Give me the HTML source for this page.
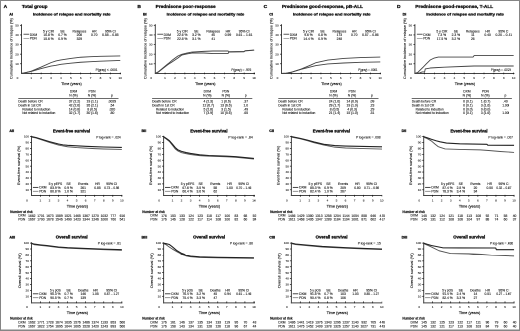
<!DOCTYPE html>
<html><head><meta charset="utf-8"><title>Figure</title>
<style>html,body{margin:0;padding:0;background:#fff;width:520px;height:331px;overflow:hidden}svg{display:block}.wrap{position:absolute;left:0;top:0;width:1040px;height:662px;transform:scale(0.5);transform-origin:0 0;will-change:transform}</style></head><body>
<div class="wrap"><svg width="1040" height="662" viewBox="0 0 520 331" font-family="Liberation Sans, Arial, sans-serif" fill="#111">
<rect x="0" y="0" width="520" height="331" fill="#fff"/>
<text x="3.6" y="7.8" font-size="4.9" font-weight="bold" stroke="#111" stroke-width="0.3">A</text>
<text x="21.9" y="8" font-size="4.7" font-weight="bold" textLength="25.6" lengthAdjust="spacingAndGlyphs" stroke="#111" stroke-width="0.3">Total group</text>
<text x="9.2" y="15.33" font-size="3.7" font-weight="bold" stroke="#111" stroke-width="0.3">Ai</text>
<text x="32.9" y="15.74" font-size="4" font-weight="bold" textLength="77.6" lengthAdjust="spacingAndGlyphs" stroke="#111" stroke-width="0.3">Incidence of relapse and mortality rate</text>
<line x1="21.5" y1="24.2" x2="21.5" y2="73.5" stroke="#444" stroke-width="1"/>
<line x1="21" y1="73.5" x2="121" y2="73.5" stroke="#444" stroke-width="1"/>
<line x1="20" y1="63.78" x2="21.5" y2="63.78" stroke="#111" stroke-width="0.7"/>
<text x="18.7" y="64.9" font-size="3.1" text-anchor="end" stroke="#111" stroke-width="0.06">10</text>
<line x1="20" y1="54.16" x2="21.5" y2="54.16" stroke="#111" stroke-width="0.7"/>
<text x="18.7" y="55.28" font-size="3.1" text-anchor="end" stroke="#111" stroke-width="0.06">20</text>
<line x1="20" y1="44.54" x2="21.5" y2="44.54" stroke="#111" stroke-width="0.7"/>
<text x="18.7" y="45.66" font-size="3.1" text-anchor="end" stroke="#111" stroke-width="0.06">30</text>
<line x1="20" y1="34.92" x2="21.5" y2="34.92" stroke="#111" stroke-width="0.7"/>
<text x="18.7" y="36.04" font-size="3.1" text-anchor="end" stroke="#111" stroke-width="0.06">40</text>
<line x1="20" y1="25.3" x2="21.5" y2="25.3" stroke="#111" stroke-width="0.7"/>
<text x="18.7" y="26.42" font-size="3.1" text-anchor="end" stroke="#111" stroke-width="0.06">50</text>
<line x1="31.25" y1="72.6" x2="31.25" y2="74.3" stroke="#111" stroke-width="0.7"/>
<text x="31.25" y="79.02" font-size="3.1" text-anchor="middle" stroke="#111" stroke-width="0.06">1</text>
<line x1="41.14" y1="72.6" x2="41.14" y2="74.3" stroke="#111" stroke-width="0.7"/>
<text x="41.14" y="79.02" font-size="3.1" text-anchor="middle" stroke="#111" stroke-width="0.06">2</text>
<line x1="51.03" y1="72.6" x2="51.03" y2="74.3" stroke="#111" stroke-width="0.7"/>
<text x="51.03" y="79.02" font-size="3.1" text-anchor="middle" stroke="#111" stroke-width="0.06">3</text>
<line x1="60.92" y1="72.6" x2="60.92" y2="74.3" stroke="#111" stroke-width="0.7"/>
<text x="60.92" y="79.02" font-size="3.1" text-anchor="middle" stroke="#111" stroke-width="0.06">4</text>
<line x1="70.81" y1="72.6" x2="70.81" y2="74.3" stroke="#111" stroke-width="0.7"/>
<text x="70.81" y="79.02" font-size="3.1" text-anchor="middle" stroke="#111" stroke-width="0.06">5</text>
<line x1="80.7" y1="72.6" x2="80.7" y2="74.3" stroke="#111" stroke-width="0.7"/>
<text x="80.7" y="79.02" font-size="3.1" text-anchor="middle" stroke="#111" stroke-width="0.06">6</text>
<line x1="90.59" y1="72.6" x2="90.59" y2="74.3" stroke="#111" stroke-width="0.7"/>
<text x="90.59" y="79.02" font-size="3.1" text-anchor="middle" stroke="#111" stroke-width="0.06">7</text>
<line x1="100.48" y1="72.6" x2="100.48" y2="74.3" stroke="#111" stroke-width="0.7"/>
<text x="100.48" y="79.02" font-size="3.1" text-anchor="middle" stroke="#111" stroke-width="0.06">8</text>
<line x1="110.37" y1="72.6" x2="110.37" y2="74.3" stroke="#111" stroke-width="0.7"/>
<text x="110.37" y="79.02" font-size="3.1" text-anchor="middle" stroke="#111" stroke-width="0.06">9</text>
<line x1="120.26" y1="72.6" x2="120.26" y2="74.3" stroke="#111" stroke-width="0.7"/>
<text x="120.26" y="79.02" font-size="3.1" text-anchor="middle" stroke="#111" stroke-width="0.06">10</text>
<text x="17.5" y="79.02" font-size="3.1" text-anchor="middle" stroke="#111" stroke-width="0.06">0</text>
<text x="61.3" y="85.17" font-size="3.8" textLength="20.4" lengthAdjust="spacingAndGlyphs" stroke="#111" stroke-width="0.14">Time (years)</text>
<line x1="23.5" y1="34.2" x2="29.2" y2="34.2" stroke="#333" stroke-width="0.8"/>
<line x1="23.5" y1="38.3" x2="29.2" y2="38.3" stroke="#777" stroke-width="0.6"/>
<text x="29.8" y="35.79" font-size="3.3" stroke="#111" stroke-width="0.1">DXM</text>
<text x="29.8" y="39.59" font-size="3.3" stroke="#111" stroke-width="0.1">PDN</text>
<text x="48.5" y="32.49" font-size="3.3" text-anchor="middle" stroke="#111" stroke-width="0.1">5 y CIR</text>
<text x="62.5" y="32.49" font-size="3.3" text-anchor="middle" stroke="#111" stroke-width="0.1">SE</text>
<text x="79.4" y="32.49" font-size="3.3" text-anchor="middle" stroke="#111" stroke-width="0.1">Relapses</text>
<text x="94.2" y="32.49" font-size="3.3" text-anchor="middle" stroke="#111" stroke-width="0.1">HR</text>
<text x="110.4" y="32.49" font-size="3.3" text-anchor="middle" stroke="#111" stroke-width="0.1">95% CI</text>
<text x="48.5" y="35.99" font-size="3.3" text-anchor="middle" stroke="#111" stroke-width="0.1">10.8 %</text>
<text x="62.5" y="35.99" font-size="3.3" text-anchor="middle" stroke="#111" stroke-width="0.1">0.7 %</text>
<text x="79.4" y="35.99" font-size="3.3" text-anchor="middle" stroke="#111" stroke-width="0.1">208</text>
<text x="94.2" y="35.99" font-size="3.3" text-anchor="middle" stroke="#111" stroke-width="0.1">0.70</text>
<text x="110.4" y="35.99" font-size="3.3" text-anchor="middle" stroke="#111" stroke-width="0.1">0.58 – 0.85</text>
<text x="48.5" y="39.79" font-size="3.3" text-anchor="middle" stroke="#111" stroke-width="0.1">15.6 %</text>
<text x="62.5" y="39.79" font-size="3.3" text-anchor="middle" stroke="#111" stroke-width="0.1">0.9 %</text>
<text x="79.4" y="39.79" font-size="3.3" text-anchor="middle" stroke="#111" stroke-width="0.1">329</text>
<text x="95.6" y="71.19" font-size="3.3" textLength="21.9" lengthAdjust="spacingAndGlyphs" stroke="#111" stroke-width="0.1">P(gray) &lt; .0001</text>
<polyline points="21.36,73.4 23.34,73.11 26.3,72.44 31.25,71.19 41.14,67.05 51.03,62.63 55.98,60.89 60.92,59.93 70.81,58.39 80.7,57.24 90.59,56.66 100.48,56.28 120.26,55.89" fill="none" stroke="#444" stroke-width="0.9" stroke-linejoin="round"/>
<polyline points="21.36,73.4 23.34,73.11 26.3,72.53 31.25,71.48 41.14,68.59 51.03,66.09 55.98,65.32 60.92,64.36 70.81,63.2 80.7,62.24 90.59,61.66 100.48,61.18 120.26,60.41" fill="none" stroke="#444" stroke-width="0.9" stroke-linejoin="round"/>
<text x="73.5" y="92.39" font-size="3.3" text-anchor="middle" stroke="#111" stroke-width="0.1">DXM</text>
<text x="92" y="92.39" font-size="3.3" text-anchor="middle" stroke="#111" stroke-width="0.1">PDN</text>
<text x="73.5" y="96.29" font-size="3.3" text-anchor="middle" stroke="#111" stroke-width="0.1">N (%)</text>
<text x="92" y="96.29" font-size="3.3" text-anchor="middle" stroke="#111" stroke-width="0.1">N (%)</text>
<text x="112" y="96.49" font-size="3.3" text-anchor="middle" stroke="#111" stroke-width="0.1">p</text>
<line x1="18.3" y1="98.3" x2="118.5" y2="98.3" stroke="#111" stroke-width="0.6"/>
<text x="18.3" y="102.59" font-size="3.3" textLength="24.5" lengthAdjust="spacingAndGlyphs" stroke="#111" stroke-width="0.1">Death before CR</text>
<text x="74.5" y="102.59" font-size="3.3" text-anchor="middle" stroke="#111" stroke-width="0.1">37 (2.2)</text>
<text x="92.2" y="102.59" font-size="3.3" text-anchor="middle" stroke="#111" stroke-width="0.1">19 (1.1)</text>
<text x="112" y="102.59" font-size="3.3" text-anchor="middle" stroke="#111" stroke-width="0.1">.0029</text>
<text x="18.3" y="106.69" font-size="3.3" textLength="22.6" lengthAdjust="spacingAndGlyphs" stroke="#111" stroke-width="0.1">Death in 1st CR</text>
<text x="74.5" y="106.69" font-size="3.3" text-anchor="middle" stroke="#111" stroke-width="0.1">42 (2.6)</text>
<text x="92.2" y="106.69" font-size="3.3" text-anchor="middle" stroke="#111" stroke-width="0.1">35 (2.1)</text>
<text x="112" y="106.69" font-size="3.3" text-anchor="middle" stroke="#111" stroke-width="0.1">.54</text>
<text x="22.2" y="110.39" font-size="3.3" textLength="28.1" lengthAdjust="spacingAndGlyphs" stroke="#111" stroke-width="0.1">Related to induction</text>
<text x="74.5" y="110.39" font-size="3.3" text-anchor="middle" stroke="#111" stroke-width="0.1">14 (0.8)</text>
<text x="92.2" y="110.39" font-size="3.3" text-anchor="middle" stroke="#111" stroke-width="0.1">8 (0.5)</text>
<text x="112" y="110.39" font-size="3.3" text-anchor="middle" stroke="#111" stroke-width="0.1">.020</text>
<text x="22.2" y="113.79" font-size="3.3" textLength="33.1" lengthAdjust="spacingAndGlyphs" stroke="#111" stroke-width="0.1">Not related to induction</text>
<text x="74.5" y="113.79" font-size="3.3" text-anchor="middle" stroke="#111" stroke-width="0.1">32 (1.7)</text>
<text x="92.2" y="113.79" font-size="3.3" text-anchor="middle" stroke="#111" stroke-width="0.1">30 (1.6)</text>
<text x="112" y="113.79" font-size="3.3" text-anchor="middle" stroke="#111" stroke-width="0.1">.80</text>
<text x="9.4" y="132.13" font-size="3.7" font-weight="bold" stroke="#111" stroke-width="0.3">Aii</text>
<text x="52.9" y="132.28" font-size="4.1" font-weight="bold" textLength="37.2" lengthAdjust="spacingAndGlyphs" stroke="#111" stroke-width="0.3">Event-free survival</text>
<text x="96.2" y="138.39" font-size="3.3" textLength="24.5" lengthAdjust="spacingAndGlyphs" stroke="#111" stroke-width="0.1">P log-rank = .024</text>
<line x1="31.5" y1="135.8" x2="31.5" y2="196" stroke="#444" stroke-width="1"/>
<line x1="31" y1="195.5" x2="122.3" y2="195.5" stroke="#444" stroke-width="1"/>
<line x1="30" y1="189.79" x2="31.5" y2="189.79" stroke="#111" stroke-width="0.7"/>
<text x="29" y="190.91" font-size="3.1" text-anchor="end" stroke="#111" stroke-width="0.06">10</text>
<line x1="30" y1="183.88" x2="31.5" y2="183.88" stroke="#111" stroke-width="0.7"/>
<text x="29" y="185" font-size="3.1" text-anchor="end" stroke="#111" stroke-width="0.06">20</text>
<line x1="30" y1="177.97" x2="31.5" y2="177.97" stroke="#111" stroke-width="0.7"/>
<text x="29" y="179.09" font-size="3.1" text-anchor="end" stroke="#111" stroke-width="0.06">30</text>
<line x1="30" y1="172.06" x2="31.5" y2="172.06" stroke="#111" stroke-width="0.7"/>
<text x="29" y="173.18" font-size="3.1" text-anchor="end" stroke="#111" stroke-width="0.06">40</text>
<line x1="30" y1="166.15" x2="31.5" y2="166.15" stroke="#111" stroke-width="0.7"/>
<text x="29" y="167.27" font-size="3.1" text-anchor="end" stroke="#111" stroke-width="0.06">50</text>
<line x1="30" y1="160.24" x2="31.5" y2="160.24" stroke="#111" stroke-width="0.7"/>
<text x="29" y="161.36" font-size="3.1" text-anchor="end" stroke="#111" stroke-width="0.06">60</text>
<line x1="30" y1="154.33" x2="31.5" y2="154.33" stroke="#111" stroke-width="0.7"/>
<text x="29" y="155.45" font-size="3.1" text-anchor="end" stroke="#111" stroke-width="0.06">70</text>
<line x1="30" y1="148.42" x2="31.5" y2="148.42" stroke="#111" stroke-width="0.7"/>
<text x="29" y="149.54" font-size="3.1" text-anchor="end" stroke="#111" stroke-width="0.06">80</text>
<line x1="30" y1="142.51" x2="31.5" y2="142.51" stroke="#111" stroke-width="0.7"/>
<text x="29" y="143.63" font-size="3.1" text-anchor="end" stroke="#111" stroke-width="0.06">90</text>
<line x1="30" y1="136.6" x2="31.5" y2="136.6" stroke="#111" stroke-width="0.7"/>
<text x="29" y="137.72" font-size="3.1" text-anchor="end" stroke="#111" stroke-width="0.06">100</text>
<line x1="40.4" y1="194.9" x2="40.4" y2="196.8" stroke="#111" stroke-width="0.7"/>
<text x="40.4" y="201.72" font-size="3.1" text-anchor="middle" stroke="#111" stroke-width="0.06">1</text>
<line x1="49.45" y1="194.9" x2="49.45" y2="196.8" stroke="#111" stroke-width="0.7"/>
<text x="49.45" y="201.72" font-size="3.1" text-anchor="middle" stroke="#111" stroke-width="0.06">2</text>
<line x1="58.5" y1="194.9" x2="58.5" y2="196.8" stroke="#111" stroke-width="0.7"/>
<text x="58.5" y="201.72" font-size="3.1" text-anchor="middle" stroke="#111" stroke-width="0.06">3</text>
<line x1="67.55" y1="194.9" x2="67.55" y2="196.8" stroke="#111" stroke-width="0.7"/>
<text x="67.55" y="201.72" font-size="3.1" text-anchor="middle" stroke="#111" stroke-width="0.06">4</text>
<line x1="76.6" y1="194.9" x2="76.6" y2="196.8" stroke="#111" stroke-width="0.7"/>
<text x="76.6" y="201.72" font-size="3.1" text-anchor="middle" stroke="#111" stroke-width="0.06">5</text>
<line x1="85.65" y1="194.9" x2="85.65" y2="196.8" stroke="#111" stroke-width="0.7"/>
<text x="85.65" y="201.72" font-size="3.1" text-anchor="middle" stroke="#111" stroke-width="0.06">6</text>
<line x1="94.7" y1="194.9" x2="94.7" y2="196.8" stroke="#111" stroke-width="0.7"/>
<text x="94.7" y="201.72" font-size="3.1" text-anchor="middle" stroke="#111" stroke-width="0.06">7</text>
<line x1="103.75" y1="194.9" x2="103.75" y2="196.8" stroke="#111" stroke-width="0.7"/>
<text x="103.75" y="201.72" font-size="3.1" text-anchor="middle" stroke="#111" stroke-width="0.06">8</text>
<line x1="112.8" y1="194.9" x2="112.8" y2="196.8" stroke="#111" stroke-width="0.7"/>
<text x="112.8" y="201.72" font-size="3.1" text-anchor="middle" stroke="#111" stroke-width="0.06">9</text>
<line x1="121.85" y1="194.9" x2="121.85" y2="196.8" stroke="#111" stroke-width="0.7"/>
<text x="121.85" y="201.72" font-size="3.1" text-anchor="middle" stroke="#111" stroke-width="0.06">10</text>
<text x="27" y="201.72" font-size="3.1" text-anchor="middle" stroke="#111" stroke-width="0.06">0</text>
<text x="66.7" y="207.7" font-size="3.9" textLength="21.4" lengthAdjust="spacingAndGlyphs" stroke="#111" stroke-width="0.14">Time (years)</text>
<line x1="32.9" y1="187.4" x2="38.4" y2="187.4" stroke="#333" stroke-width="0.9"/>
<line x1="32.9" y1="191.3" x2="38.4" y2="191.3" stroke="#777" stroke-width="0.8"/>
<text x="39.2" y="188.59" font-size="3.3" stroke="#111" stroke-width="0.1">DXM</text>
<text x="39.2" y="192.49" font-size="3.3" stroke="#111" stroke-width="0.1">PDN</text>
<text x="55.4" y="185.19" font-size="3.3" text-anchor="middle" stroke="#111" stroke-width="0.1">5 y pEFS</text>
<text x="68.6" y="185.19" font-size="3.3" text-anchor="middle" stroke="#111" stroke-width="0.1">SE</text>
<text x="83.2" y="185.19" font-size="3.3" text-anchor="middle" stroke="#111" stroke-width="0.1">Events</text>
<text x="97.5" y="185.19" font-size="3.3" text-anchor="middle" stroke="#111" stroke-width="0.1">HR</text>
<text x="111.7" y="185.19" font-size="3.3" text-anchor="middle" stroke="#111" stroke-width="0.1">95% CI</text>
<text x="55.4" y="188.79" font-size="3.3" text-anchor="middle" stroke="#111" stroke-width="0.1">83.9 %</text>
<text x="68.6" y="188.79" font-size="3.3" text-anchor="middle" stroke="#111" stroke-width="0.1">0.9 %</text>
<text x="83.2" y="188.79" font-size="3.3" text-anchor="middle" stroke="#111" stroke-width="0.1">261</text>
<text x="97.5" y="188.79" font-size="3.3" text-anchor="middle" stroke="#111" stroke-width="0.1">0.85</text>
<text x="111.7" y="188.79" font-size="3.3" text-anchor="middle" textLength="15" lengthAdjust="spacingAndGlyphs" stroke="#111" stroke-width="0.1">0.73 – 0.98</text>
<text x="55.4" y="192.59" font-size="3.3" text-anchor="middle" stroke="#111" stroke-width="0.1">80.8 %</text>
<text x="68.6" y="192.59" font-size="3.3" text-anchor="middle" stroke="#111" stroke-width="0.1">1.0 %</text>
<text x="83.2" y="192.59" font-size="3.3" text-anchor="middle" stroke="#111" stroke-width="0.1">321</text>
<polyline points="31.35,137.05 35.88,137.94 40.4,139.41 49.45,142.37 58.5,145.03 63.03,145.91 67.55,146.74 76.6,147.57 85.65,148.16 94.7,148.63 103.75,148.99 121.85,149.46" fill="none" stroke="#555" stroke-width="0.95" stroke-linejoin="round"/>
<polyline points="31.35,136.6 35.88,137.49 40.4,138.85 49.45,141.62 58.5,143.99 63.03,144.87 67.55,145.35 76.6,145.82 85.65,146.29 94.7,146.65 103.75,147 121.85,147.47" fill="none" stroke="#222" stroke-width="1.1" stroke-linejoin="round"/>
<text x="10.2" y="212.75" font-size="3.2" font-weight="bold" textLength="22.5" lengthAdjust="spacingAndGlyphs" stroke="#111" stroke-width="0.14">Number at risk</text>
<text x="18.3" y="216.69" font-size="3.3" stroke="#111" stroke-width="0.1">DXM</text>
<text x="18.3" y="220.59" font-size="3.3" stroke="#111" stroke-width="0.1">PDN</text>
<text x="31.85" y="216.79" font-size="3.3" text-anchor="middle" stroke="#111" stroke-width="0.1">1662</text>
<text x="40.9" y="216.79" font-size="3.3" text-anchor="middle" stroke="#111" stroke-width="0.1">1701</text>
<text x="49.95" y="216.79" font-size="3.3" text-anchor="middle" stroke="#111" stroke-width="0.1">1673</text>
<text x="59" y="216.79" font-size="3.3" text-anchor="middle" stroke="#111" stroke-width="0.1">1589</text>
<text x="68.05" y="216.79" font-size="3.3" text-anchor="middle" stroke="#111" stroke-width="0.1">1521</text>
<text x="77.1" y="216.79" font-size="3.3" text-anchor="middle" stroke="#111" stroke-width="0.1">1465</text>
<text x="86.15" y="216.79" font-size="3.3" text-anchor="middle" stroke="#111" stroke-width="0.1">1367</text>
<text x="95.2" y="216.79" font-size="3.3" text-anchor="middle" stroke="#111" stroke-width="0.1">1270</text>
<text x="104.25" y="216.79" font-size="3.3" text-anchor="middle" stroke="#111" stroke-width="0.1">1032</text>
<text x="113.3" y="216.79" font-size="3.3" text-anchor="middle" stroke="#111" stroke-width="0.1">777</text>
<text x="122.35" y="216.79" font-size="3.3" text-anchor="middle" stroke="#111" stroke-width="0.1">616</text>
<text x="31.85" y="220.59" font-size="3.3" text-anchor="middle" stroke="#111" stroke-width="0.1">1667</text>
<text x="40.9" y="220.59" font-size="3.3" text-anchor="middle" stroke="#111" stroke-width="0.1">1700</text>
<text x="49.95" y="220.59" font-size="3.3" text-anchor="middle" stroke="#111" stroke-width="0.1">1678</text>
<text x="59" y="220.59" font-size="3.3" text-anchor="middle" stroke="#111" stroke-width="0.1">1546</text>
<text x="68.05" y="220.59" font-size="3.3" text-anchor="middle" stroke="#111" stroke-width="0.1">1490</text>
<text x="77.1" y="220.59" font-size="3.3" text-anchor="middle" stroke="#111" stroke-width="0.1">1423</text>
<text x="86.15" y="220.59" font-size="3.3" text-anchor="middle" stroke="#111" stroke-width="0.1">1344</text>
<text x="95.2" y="220.59" font-size="3.3" text-anchor="middle" stroke="#111" stroke-width="0.1">1246</text>
<text x="104.25" y="220.59" font-size="3.3" text-anchor="middle" stroke="#111" stroke-width="0.1">1000</text>
<text x="113.3" y="220.59" font-size="3.3" text-anchor="middle" stroke="#111" stroke-width="0.1">760</text>
<text x="122.35" y="220.59" font-size="3.3" text-anchor="middle" stroke="#111" stroke-width="0.1">541</text>
<text x="9.4" y="238.53" font-size="3.7" font-weight="bold" stroke="#111" stroke-width="0.3">Aiii</text>
<text x="55.8" y="238.68" font-size="4.1" font-weight="bold" textLength="31.9" lengthAdjust="spacingAndGlyphs" stroke="#111" stroke-width="0.3">Overall survival</text>
<text x="97.8" y="244.69" font-size="3.3" textLength="23.1" lengthAdjust="spacingAndGlyphs" stroke="#111" stroke-width="0.1">P log-rank = .81</text>
<line x1="31.5" y1="242.3" x2="31.5" y2="303.4" stroke="#444" stroke-width="1"/>
<line x1="31" y1="302.9" x2="122.3" y2="302.9" stroke="#444" stroke-width="1"/>
<line x1="30" y1="296.29" x2="31.5" y2="296.29" stroke="#111" stroke-width="0.7"/>
<text x="29" y="297.41" font-size="3.1" text-anchor="end" stroke="#111" stroke-width="0.06">10</text>
<line x1="30" y1="290.38" x2="31.5" y2="290.38" stroke="#111" stroke-width="0.7"/>
<text x="29" y="291.5" font-size="3.1" text-anchor="end" stroke="#111" stroke-width="0.06">20</text>
<line x1="30" y1="284.47" x2="31.5" y2="284.47" stroke="#111" stroke-width="0.7"/>
<text x="29" y="285.59" font-size="3.1" text-anchor="end" stroke="#111" stroke-width="0.06">30</text>
<line x1="30" y1="278.56" x2="31.5" y2="278.56" stroke="#111" stroke-width="0.7"/>
<text x="29" y="279.68" font-size="3.1" text-anchor="end" stroke="#111" stroke-width="0.06">40</text>
<line x1="30" y1="272.65" x2="31.5" y2="272.65" stroke="#111" stroke-width="0.7"/>
<text x="29" y="273.77" font-size="3.1" text-anchor="end" stroke="#111" stroke-width="0.06">50</text>
<line x1="30" y1="266.74" x2="31.5" y2="266.74" stroke="#111" stroke-width="0.7"/>
<text x="29" y="267.86" font-size="3.1" text-anchor="end" stroke="#111" stroke-width="0.06">60</text>
<line x1="30" y1="260.83" x2="31.5" y2="260.83" stroke="#111" stroke-width="0.7"/>
<text x="29" y="261.95" font-size="3.1" text-anchor="end" stroke="#111" stroke-width="0.06">70</text>
<line x1="30" y1="254.92" x2="31.5" y2="254.92" stroke="#111" stroke-width="0.7"/>
<text x="29" y="256.04" font-size="3.1" text-anchor="end" stroke="#111" stroke-width="0.06">80</text>
<line x1="30" y1="249.01" x2="31.5" y2="249.01" stroke="#111" stroke-width="0.7"/>
<text x="29" y="250.13" font-size="3.1" text-anchor="end" stroke="#111" stroke-width="0.06">90</text>
<line x1="30" y1="243.1" x2="31.5" y2="243.1" stroke="#111" stroke-width="0.7"/>
<text x="29" y="244.22" font-size="3.1" text-anchor="end" stroke="#111" stroke-width="0.06">100</text>
<line x1="40.4" y1="301.4" x2="40.4" y2="303.3" stroke="#111" stroke-width="0.7"/>
<text x="40.4" y="308.12" font-size="3.1" text-anchor="middle" stroke="#111" stroke-width="0.06">1</text>
<line x1="49.45" y1="301.4" x2="49.45" y2="303.3" stroke="#111" stroke-width="0.7"/>
<text x="49.45" y="308.12" font-size="3.1" text-anchor="middle" stroke="#111" stroke-width="0.06">2</text>
<line x1="58.5" y1="301.4" x2="58.5" y2="303.3" stroke="#111" stroke-width="0.7"/>
<text x="58.5" y="308.12" font-size="3.1" text-anchor="middle" stroke="#111" stroke-width="0.06">3</text>
<line x1="67.55" y1="301.4" x2="67.55" y2="303.3" stroke="#111" stroke-width="0.7"/>
<text x="67.55" y="308.12" font-size="3.1" text-anchor="middle" stroke="#111" stroke-width="0.06">4</text>
<line x1="76.6" y1="301.4" x2="76.6" y2="303.3" stroke="#111" stroke-width="0.7"/>
<text x="76.6" y="308.12" font-size="3.1" text-anchor="middle" stroke="#111" stroke-width="0.06">5</text>
<line x1="85.65" y1="301.4" x2="85.65" y2="303.3" stroke="#111" stroke-width="0.7"/>
<text x="85.65" y="308.12" font-size="3.1" text-anchor="middle" stroke="#111" stroke-width="0.06">6</text>
<line x1="94.7" y1="301.4" x2="94.7" y2="303.3" stroke="#111" stroke-width="0.7"/>
<text x="94.7" y="308.12" font-size="3.1" text-anchor="middle" stroke="#111" stroke-width="0.06">7</text>
<line x1="103.75" y1="301.4" x2="103.75" y2="303.3" stroke="#111" stroke-width="0.7"/>
<text x="103.75" y="308.12" font-size="3.1" text-anchor="middle" stroke="#111" stroke-width="0.06">8</text>
<line x1="112.8" y1="301.4" x2="112.8" y2="303.3" stroke="#111" stroke-width="0.7"/>
<text x="112.8" y="308.12" font-size="3.1" text-anchor="middle" stroke="#111" stroke-width="0.06">9</text>
<line x1="121.85" y1="301.4" x2="121.85" y2="303.3" stroke="#111" stroke-width="0.7"/>
<text x="121.85" y="308.12" font-size="3.1" text-anchor="middle" stroke="#111" stroke-width="0.06">10</text>
<text x="27" y="308.12" font-size="3.1" text-anchor="middle" stroke="#111" stroke-width="0.06">0</text>
<text x="66.7" y="314.1" font-size="3.9" textLength="21.4" lengthAdjust="spacingAndGlyphs" stroke="#111" stroke-width="0.14">Time (years)</text>
<line x1="32.9" y1="293.8" x2="38.4" y2="293.8" stroke="#333" stroke-width="0.9"/>
<line x1="32.9" y1="297.7" x2="38.4" y2="297.7" stroke="#777" stroke-width="0.8"/>
<text x="39.2" y="294.99" font-size="3.3" stroke="#111" stroke-width="0.1">DXM</text>
<text x="39.2" y="298.89" font-size="3.3" stroke="#111" stroke-width="0.1">PDN</text>
<text x="55.4" y="291.59" font-size="3.3" text-anchor="middle" textLength="10.8" lengthAdjust="spacingAndGlyphs" stroke="#111" stroke-width="0.1">5 y pOS</text>
<text x="68.6" y="291.59" font-size="3.3" text-anchor="middle" stroke="#111" stroke-width="0.1">SE</text>
<text x="83.2" y="291.59" font-size="3.3" text-anchor="middle" stroke="#111" stroke-width="0.1">Deaths</text>
<text x="95.5" y="291.59" font-size="3.3" text-anchor="middle" stroke="#111" stroke-width="0.1">HR</text>
<text x="111.7" y="291.59" font-size="3.3" text-anchor="middle" stroke="#111" stroke-width="0.1">95% CI</text>
<text x="55.4" y="295.19" font-size="3.3" text-anchor="middle" stroke="#111" stroke-width="0.1">90.3 %</text>
<text x="68.6" y="295.19" font-size="3.3" text-anchor="middle" stroke="#111" stroke-width="0.1">0.7 %</text>
<text x="83.2" y="295.19" font-size="3.3" text-anchor="middle" stroke="#111" stroke-width="0.1">146</text>
<text x="95.5" y="295.19" font-size="3.3" text-anchor="middle" stroke="#111" stroke-width="0.1">1.05</text>
<text x="111.7" y="295.19" font-size="3.3" text-anchor="middle" textLength="15" lengthAdjust="spacingAndGlyphs" stroke="#111" stroke-width="0.1">0.87 – 1.27</text>
<text x="55.4" y="298.99" font-size="3.3" text-anchor="middle" stroke="#111" stroke-width="0.1">90.5 %</text>
<text x="68.6" y="298.99" font-size="3.3" text-anchor="middle" stroke="#111" stroke-width="0.1">0.7 %</text>
<text x="83.2" y="298.99" font-size="3.3" text-anchor="middle" stroke="#111" stroke-width="0.1">139</text>
<polyline points="31.35,243.55 34.07,244.61 40.4,245.38 46.92,246.03 58.5,247.51 67.55,248.16 84.75,248.93 103.75,249.64 121.85,250.23" fill="none" stroke="#555" stroke-width="0.95" stroke-linejoin="round"/>
<polyline points="31.35,243.1 34.07,244.1 40.4,244.87 46.92,245.52 58.5,247 67.55,247.65 84.75,248.42 103.75,249.13 121.85,249.72" fill="none" stroke="#222" stroke-width="1.1" stroke-linejoin="round"/>
<text x="10.2" y="319.65" font-size="3.2" font-weight="bold" textLength="22.5" lengthAdjust="spacingAndGlyphs" stroke="#111" stroke-width="0.14">Number at risk</text>
<text x="18.3" y="323.59" font-size="3.3" stroke="#111" stroke-width="0.1">DXM</text>
<text x="18.3" y="327.49" font-size="3.3" stroke="#111" stroke-width="0.1">PDN</text>
<text x="31.85" y="323.69" font-size="3.3" text-anchor="middle" stroke="#111" stroke-width="0.1">1662</text>
<text x="40.9" y="323.69" font-size="3.3" text-anchor="middle" stroke="#111" stroke-width="0.1">1771</text>
<text x="49.95" y="323.69" font-size="3.3" text-anchor="middle" stroke="#111" stroke-width="0.1">1728</text>
<text x="59" y="323.69" font-size="3.3" text-anchor="middle" stroke="#111" stroke-width="0.1">1674</text>
<text x="68.05" y="323.69" font-size="3.3" text-anchor="middle" stroke="#111" stroke-width="0.1">1635</text>
<text x="77.1" y="323.69" font-size="3.3" text-anchor="middle" stroke="#111" stroke-width="0.1">1576</text>
<text x="86.15" y="323.69" font-size="3.3" text-anchor="middle" stroke="#111" stroke-width="0.1">1486</text>
<text x="95.2" y="323.69" font-size="3.3" text-anchor="middle" stroke="#111" stroke-width="0.1">1374</text>
<text x="104.25" y="323.69" font-size="3.3" text-anchor="middle" stroke="#111" stroke-width="0.1">1133</text>
<text x="113.3" y="323.69" font-size="3.3" text-anchor="middle" stroke="#111" stroke-width="0.1">853</text>
<text x="122.35" y="323.69" font-size="3.3" text-anchor="middle" stroke="#111" stroke-width="0.1">566</text>
<text x="31.85" y="327.49" font-size="3.3" text-anchor="middle" stroke="#111" stroke-width="0.1">1667</text>
<text x="40.9" y="327.49" font-size="3.3" text-anchor="middle" stroke="#111" stroke-width="0.1">1822</text>
<text x="49.95" y="327.49" font-size="3.3" text-anchor="middle" stroke="#111" stroke-width="0.1">1754</text>
<text x="59" y="327.49" font-size="3.3" text-anchor="middle" stroke="#111" stroke-width="0.1">1695</text>
<text x="68.05" y="327.49" font-size="3.3" text-anchor="middle" stroke="#111" stroke-width="0.1">1644</text>
<text x="77.1" y="327.49" font-size="3.3" text-anchor="middle" stroke="#111" stroke-width="0.1">1605</text>
<text x="86.15" y="327.49" font-size="3.3" text-anchor="middle" stroke="#111" stroke-width="0.1">1528</text>
<text x="95.2" y="327.49" font-size="3.3" text-anchor="middle" stroke="#111" stroke-width="0.1">1420</text>
<text x="104.25" y="327.49" font-size="3.3" text-anchor="middle" stroke="#111" stroke-width="0.1">1243</text>
<text x="113.3" y="327.49" font-size="3.3" text-anchor="middle" stroke="#111" stroke-width="0.1">893</text>
<text x="122.35" y="327.49" font-size="3.3" text-anchor="middle" stroke="#111" stroke-width="0.1">566</text>
<text x="137.4" y="7.8" font-size="4.9" font-weight="bold" stroke="#111" stroke-width="0.3">B</text>
<text x="155.7" y="8" font-size="4.7" font-weight="bold" textLength="60" lengthAdjust="spacingAndGlyphs" stroke="#111" stroke-width="0.3">Prednisone poor-response</text>
<text x="143" y="15.33" font-size="3.7" font-weight="bold" stroke="#111" stroke-width="0.3">Bi</text>
<text x="166.7" y="15.74" font-size="4" font-weight="bold" textLength="77.6" lengthAdjust="spacingAndGlyphs" stroke="#111" stroke-width="0.3">Incidence of relapse and mortality rate</text>
<line x1="155.3" y1="24.2" x2="155.3" y2="73.5" stroke="#444" stroke-width="1"/>
<line x1="154.8" y1="73.5" x2="254.8" y2="73.5" stroke="#444" stroke-width="1"/>
<line x1="153.8" y1="63.78" x2="155.3" y2="63.78" stroke="#111" stroke-width="0.7"/>
<text x="152.5" y="64.9" font-size="3.1" text-anchor="end" stroke="#111" stroke-width="0.06">10</text>
<line x1="153.8" y1="54.16" x2="155.3" y2="54.16" stroke="#111" stroke-width="0.7"/>
<text x="152.5" y="55.28" font-size="3.1" text-anchor="end" stroke="#111" stroke-width="0.06">20</text>
<line x1="153.8" y1="44.54" x2="155.3" y2="44.54" stroke="#111" stroke-width="0.7"/>
<text x="152.5" y="45.66" font-size="3.1" text-anchor="end" stroke="#111" stroke-width="0.06">30</text>
<line x1="153.8" y1="34.92" x2="155.3" y2="34.92" stroke="#111" stroke-width="0.7"/>
<text x="152.5" y="36.04" font-size="3.1" text-anchor="end" stroke="#111" stroke-width="0.06">40</text>
<line x1="153.8" y1="25.3" x2="155.3" y2="25.3" stroke="#111" stroke-width="0.7"/>
<text x="152.5" y="26.42" font-size="3.1" text-anchor="end" stroke="#111" stroke-width="0.06">50</text>
<line x1="165.05" y1="72.6" x2="165.05" y2="74.3" stroke="#111" stroke-width="0.7"/>
<text x="165.05" y="79.02" font-size="3.1" text-anchor="middle" stroke="#111" stroke-width="0.06">1</text>
<line x1="174.94" y1="72.6" x2="174.94" y2="74.3" stroke="#111" stroke-width="0.7"/>
<text x="174.94" y="79.02" font-size="3.1" text-anchor="middle" stroke="#111" stroke-width="0.06">2</text>
<line x1="184.83" y1="72.6" x2="184.83" y2="74.3" stroke="#111" stroke-width="0.7"/>
<text x="184.83" y="79.02" font-size="3.1" text-anchor="middle" stroke="#111" stroke-width="0.06">3</text>
<line x1="194.72" y1="72.6" x2="194.72" y2="74.3" stroke="#111" stroke-width="0.7"/>
<text x="194.72" y="79.02" font-size="3.1" text-anchor="middle" stroke="#111" stroke-width="0.06">4</text>
<line x1="204.61" y1="72.6" x2="204.61" y2="74.3" stroke="#111" stroke-width="0.7"/>
<text x="204.61" y="79.02" font-size="3.1" text-anchor="middle" stroke="#111" stroke-width="0.06">5</text>
<line x1="214.5" y1="72.6" x2="214.5" y2="74.3" stroke="#111" stroke-width="0.7"/>
<text x="214.5" y="79.02" font-size="3.1" text-anchor="middle" stroke="#111" stroke-width="0.06">6</text>
<line x1="224.39" y1="72.6" x2="224.39" y2="74.3" stroke="#111" stroke-width="0.7"/>
<text x="224.39" y="79.02" font-size="3.1" text-anchor="middle" stroke="#111" stroke-width="0.06">7</text>
<line x1="234.28" y1="72.6" x2="234.28" y2="74.3" stroke="#111" stroke-width="0.7"/>
<text x="234.28" y="79.02" font-size="3.1" text-anchor="middle" stroke="#111" stroke-width="0.06">8</text>
<line x1="244.17" y1="72.6" x2="244.17" y2="74.3" stroke="#111" stroke-width="0.7"/>
<text x="244.17" y="79.02" font-size="3.1" text-anchor="middle" stroke="#111" stroke-width="0.06">9</text>
<line x1="254.06" y1="72.6" x2="254.06" y2="74.3" stroke="#111" stroke-width="0.7"/>
<text x="254.06" y="79.02" font-size="3.1" text-anchor="middle" stroke="#111" stroke-width="0.06">10</text>
<text x="151.3" y="79.02" font-size="3.1" text-anchor="middle" stroke="#111" stroke-width="0.06">0</text>
<text x="195.1" y="85.17" font-size="3.8" textLength="20.4" lengthAdjust="spacingAndGlyphs" stroke="#111" stroke-width="0.14">Time (years)</text>
<line x1="157.3" y1="34.2" x2="163" y2="34.2" stroke="#333" stroke-width="0.8"/>
<line x1="157.3" y1="38.3" x2="163" y2="38.3" stroke="#777" stroke-width="0.6"/>
<text x="163.6" y="35.79" font-size="3.3" stroke="#111" stroke-width="0.1">DXM</text>
<text x="163.6" y="39.59" font-size="3.3" stroke="#111" stroke-width="0.1">PDN</text>
<text x="182.3" y="32.49" font-size="3.3" text-anchor="middle" stroke="#111" stroke-width="0.1">5 y CIR</text>
<text x="196.3" y="32.49" font-size="3.3" text-anchor="middle" stroke="#111" stroke-width="0.1">SE</text>
<text x="213.2" y="32.49" font-size="3.3" text-anchor="middle" stroke="#111" stroke-width="0.1">Relapses</text>
<text x="228" y="32.49" font-size="3.3" text-anchor="middle" stroke="#111" stroke-width="0.1">HR</text>
<text x="244.2" y="32.49" font-size="3.3" text-anchor="middle" stroke="#111" stroke-width="0.1">95% CI</text>
<text x="182.3" y="35.99" font-size="3.3" text-anchor="middle" stroke="#111" stroke-width="0.1">22.6 %</text>
<text x="196.3" y="35.99" font-size="3.3" text-anchor="middle" stroke="#111" stroke-width="0.1">3.2 %</text>
<text x="213.2" y="35.99" font-size="3.3" text-anchor="middle" stroke="#111" stroke-width="0.1">40</text>
<text x="228" y="35.99" font-size="3.3" text-anchor="middle" stroke="#111" stroke-width="0.1">0.99</text>
<text x="244.2" y="35.99" font-size="3.3" text-anchor="middle" stroke="#111" stroke-width="0.1">0.61 – 1.61</text>
<text x="182.3" y="39.79" font-size="3.3" text-anchor="middle" stroke="#111" stroke-width="0.1">22.8 %</text>
<text x="196.3" y="39.79" font-size="3.3" text-anchor="middle" stroke="#111" stroke-width="0.1">3.1 %</text>
<text x="213.2" y="39.79" font-size="3.3" text-anchor="middle" stroke="#111" stroke-width="0.1">41</text>
<text x="231.4" y="71.19" font-size="3.3" textLength="19.9" lengthAdjust="spacingAndGlyphs" stroke="#111" stroke-width="0.1">P(gray) = .976</text>
<polyline points="155.16,73.4 158.13,72.25 163.96,67.63 168.02,64.55 171.97,61.95 177.91,58.01 181.86,55.03 186.81,53.97 191.95,53.01 203.62,53.01 213.02,53.58 228.05,53.58 228.84,52.04 243.97,51.76 245.16,50.89 254.06,50.22" fill="none" stroke="#444" stroke-width="0.9" stroke-linejoin="round"/>
<polyline points="155.16,73.4 158.13,71.96 163.96,67.05 168.02,63.78 171.97,60.41 177.91,55.99 181.86,54.35 186.81,53.01 191.95,52.04 203.62,51.37 213.02,50.99 228.05,50.99 228.84,51.66 243.97,51.47 245.16,50.7 254.06,50.02" fill="none" stroke="#444" stroke-width="0.9" stroke-linejoin="round"/>
<text x="207.3" y="92.39" font-size="3.3" text-anchor="middle" stroke="#111" stroke-width="0.1">DXM</text>
<text x="225.8" y="92.39" font-size="3.3" text-anchor="middle" stroke="#111" stroke-width="0.1">PDN</text>
<text x="207.3" y="96.29" font-size="3.3" text-anchor="middle" stroke="#111" stroke-width="0.1">N (%)</text>
<text x="225.8" y="96.29" font-size="3.3" text-anchor="middle" stroke="#111" stroke-width="0.1">N (%)</text>
<text x="245.8" y="96.49" font-size="3.3" text-anchor="middle" stroke="#111" stroke-width="0.1">p</text>
<line x1="152.1" y1="98.3" x2="252.3" y2="98.3" stroke="#111" stroke-width="0.6"/>
<text x="152.1" y="102.59" font-size="3.3" textLength="24.5" lengthAdjust="spacingAndGlyphs" stroke="#111" stroke-width="0.1">Death before CR</text>
<text x="208.3" y="102.59" font-size="3.3" text-anchor="middle" stroke="#111" stroke-width="0.1">4 (2.3)</text>
<text x="226" y="102.59" font-size="3.3" text-anchor="middle" stroke="#111" stroke-width="0.1">1 (0.6)</text>
<text x="245.8" y="102.59" font-size="3.3" text-anchor="middle" stroke="#111" stroke-width="0.1">.37</text>
<text x="152.1" y="106.69" font-size="3.3" textLength="22.6" lengthAdjust="spacingAndGlyphs" stroke="#111" stroke-width="0.1">Death in 1st CR</text>
<text x="208.3" y="106.69" font-size="3.3" text-anchor="middle" stroke="#111" stroke-width="0.1">12 (6.7)</text>
<text x="226" y="106.69" font-size="3.3" text-anchor="middle" stroke="#111" stroke-width="0.1">13 (6.6)</text>
<text x="245.8" y="106.69" font-size="3.3" text-anchor="middle" stroke="#111" stroke-width="0.1">1.0</text>
<text x="156" y="110.39" font-size="3.3" textLength="28.1" lengthAdjust="spacingAndGlyphs" stroke="#111" stroke-width="0.1">Related to induction</text>
<text x="208.3" y="110.39" font-size="3.3" text-anchor="middle" stroke="#111" stroke-width="0.1">5 (2.8)</text>
<text x="226" y="110.39" font-size="3.3" text-anchor="middle" stroke="#111" stroke-width="0.1">3 (1.5)</text>
<text x="245.8" y="110.39" font-size="3.3" text-anchor="middle" stroke="#111" stroke-width="0.1">.49</text>
<text x="156" y="113.79" font-size="3.3" textLength="33.1" lengthAdjust="spacingAndGlyphs" stroke="#111" stroke-width="0.1">Not related to induction</text>
<text x="208.3" y="113.79" font-size="3.3" text-anchor="middle" stroke="#111" stroke-width="0.1">7 (3.9)</text>
<text x="226" y="113.79" font-size="3.3" text-anchor="middle" stroke="#111" stroke-width="0.1">10 (5.6)</text>
<text x="245.8" y="113.79" font-size="3.3" text-anchor="middle" stroke="#111" stroke-width="0.1">.65</text>
<text x="141.5" y="132.13" font-size="3.7" font-weight="bold" stroke="#111" stroke-width="0.3">Bii</text>
<text x="190.3" y="132.28" font-size="4.1" font-weight="bold" textLength="37.2" lengthAdjust="spacingAndGlyphs" stroke="#111" stroke-width="0.3">Event-free survival</text>
<text x="228.3" y="138.39" font-size="3.3" textLength="24.5" lengthAdjust="spacingAndGlyphs" stroke="#111" stroke-width="0.1">P log-rank = .84</text>
<line x1="163.6" y1="135.8" x2="163.6" y2="196" stroke="#444" stroke-width="1"/>
<line x1="163.1" y1="195.5" x2="254.4" y2="195.5" stroke="#444" stroke-width="1"/>
<line x1="162.1" y1="189.79" x2="163.6" y2="189.79" stroke="#111" stroke-width="0.7"/>
<text x="161.1" y="190.91" font-size="3.1" text-anchor="end" stroke="#111" stroke-width="0.06">10</text>
<line x1="162.1" y1="183.88" x2="163.6" y2="183.88" stroke="#111" stroke-width="0.7"/>
<text x="161.1" y="185" font-size="3.1" text-anchor="end" stroke="#111" stroke-width="0.06">20</text>
<line x1="162.1" y1="177.97" x2="163.6" y2="177.97" stroke="#111" stroke-width="0.7"/>
<text x="161.1" y="179.09" font-size="3.1" text-anchor="end" stroke="#111" stroke-width="0.06">30</text>
<line x1="162.1" y1="172.06" x2="163.6" y2="172.06" stroke="#111" stroke-width="0.7"/>
<text x="161.1" y="173.18" font-size="3.1" text-anchor="end" stroke="#111" stroke-width="0.06">40</text>
<line x1="162.1" y1="166.15" x2="163.6" y2="166.15" stroke="#111" stroke-width="0.7"/>
<text x="161.1" y="167.27" font-size="3.1" text-anchor="end" stroke="#111" stroke-width="0.06">50</text>
<line x1="162.1" y1="160.24" x2="163.6" y2="160.24" stroke="#111" stroke-width="0.7"/>
<text x="161.1" y="161.36" font-size="3.1" text-anchor="end" stroke="#111" stroke-width="0.06">60</text>
<line x1="162.1" y1="154.33" x2="163.6" y2="154.33" stroke="#111" stroke-width="0.7"/>
<text x="161.1" y="155.45" font-size="3.1" text-anchor="end" stroke="#111" stroke-width="0.06">70</text>
<line x1="162.1" y1="148.42" x2="163.6" y2="148.42" stroke="#111" stroke-width="0.7"/>
<text x="161.1" y="149.54" font-size="3.1" text-anchor="end" stroke="#111" stroke-width="0.06">80</text>
<line x1="162.1" y1="142.51" x2="163.6" y2="142.51" stroke="#111" stroke-width="0.7"/>
<text x="161.1" y="143.63" font-size="3.1" text-anchor="end" stroke="#111" stroke-width="0.06">90</text>
<line x1="162.1" y1="136.6" x2="163.6" y2="136.6" stroke="#111" stroke-width="0.7"/>
<text x="161.1" y="137.72" font-size="3.1" text-anchor="end" stroke="#111" stroke-width="0.06">100</text>
<line x1="172.5" y1="194.9" x2="172.5" y2="196.8" stroke="#111" stroke-width="0.7"/>
<text x="172.5" y="201.72" font-size="3.1" text-anchor="middle" stroke="#111" stroke-width="0.06">1</text>
<line x1="181.55" y1="194.9" x2="181.55" y2="196.8" stroke="#111" stroke-width="0.7"/>
<text x="181.55" y="201.72" font-size="3.1" text-anchor="middle" stroke="#111" stroke-width="0.06">2</text>
<line x1="190.6" y1="194.9" x2="190.6" y2="196.8" stroke="#111" stroke-width="0.7"/>
<text x="190.6" y="201.72" font-size="3.1" text-anchor="middle" stroke="#111" stroke-width="0.06">3</text>
<line x1="199.65" y1="194.9" x2="199.65" y2="196.8" stroke="#111" stroke-width="0.7"/>
<text x="199.65" y="201.72" font-size="3.1" text-anchor="middle" stroke="#111" stroke-width="0.06">4</text>
<line x1="208.7" y1="194.9" x2="208.7" y2="196.8" stroke="#111" stroke-width="0.7"/>
<text x="208.7" y="201.72" font-size="3.1" text-anchor="middle" stroke="#111" stroke-width="0.06">5</text>
<line x1="217.75" y1="194.9" x2="217.75" y2="196.8" stroke="#111" stroke-width="0.7"/>
<text x="217.75" y="201.72" font-size="3.1" text-anchor="middle" stroke="#111" stroke-width="0.06">6</text>
<line x1="226.8" y1="194.9" x2="226.8" y2="196.8" stroke="#111" stroke-width="0.7"/>
<text x="226.8" y="201.72" font-size="3.1" text-anchor="middle" stroke="#111" stroke-width="0.06">7</text>
<line x1="235.85" y1="194.9" x2="235.85" y2="196.8" stroke="#111" stroke-width="0.7"/>
<text x="235.85" y="201.72" font-size="3.1" text-anchor="middle" stroke="#111" stroke-width="0.06">8</text>
<line x1="244.9" y1="194.9" x2="244.9" y2="196.8" stroke="#111" stroke-width="0.7"/>
<text x="244.9" y="201.72" font-size="3.1" text-anchor="middle" stroke="#111" stroke-width="0.06">9</text>
<line x1="253.95" y1="194.9" x2="253.95" y2="196.8" stroke="#111" stroke-width="0.7"/>
<text x="253.95" y="201.72" font-size="3.1" text-anchor="middle" stroke="#111" stroke-width="0.06">10</text>
<text x="159.1" y="201.72" font-size="3.1" text-anchor="middle" stroke="#111" stroke-width="0.06">0</text>
<text x="198.8" y="207.7" font-size="3.9" textLength="21.4" lengthAdjust="spacingAndGlyphs" stroke="#111" stroke-width="0.14">Time (years)</text>
<line x1="165" y1="187.4" x2="170.5" y2="187.4" stroke="#333" stroke-width="0.9"/>
<line x1="165" y1="191.3" x2="170.5" y2="191.3" stroke="#777" stroke-width="0.8"/>
<text x="171.3" y="188.59" font-size="3.3" stroke="#111" stroke-width="0.1">DXM</text>
<text x="171.3" y="192.49" font-size="3.3" stroke="#111" stroke-width="0.1">PDN</text>
<text x="187.5" y="185.19" font-size="3.3" text-anchor="middle" stroke="#111" stroke-width="0.1">5 y pEFS</text>
<text x="200.7" y="185.19" font-size="3.3" text-anchor="middle" stroke="#111" stroke-width="0.1">SE</text>
<text x="215.3" y="185.19" font-size="3.3" text-anchor="middle" stroke="#111" stroke-width="0.1">Events</text>
<text x="229.6" y="185.19" font-size="3.3" text-anchor="middle" stroke="#111" stroke-width="0.1">HR</text>
<text x="243.8" y="185.19" font-size="3.3" text-anchor="middle" stroke="#111" stroke-width="0.1">95% CI</text>
<text x="187.5" y="188.79" font-size="3.3" text-anchor="middle" stroke="#111" stroke-width="0.1">67.6 %</text>
<text x="200.7" y="188.79" font-size="3.3" text-anchor="middle" stroke="#111" stroke-width="0.1">3.5 %</text>
<text x="215.3" y="188.79" font-size="3.3" text-anchor="middle" stroke="#111" stroke-width="0.1">58</text>
<text x="229.6" y="188.79" font-size="3.3" text-anchor="middle" stroke="#111" stroke-width="0.1">1.00</text>
<text x="243.8" y="188.79" font-size="3.3" text-anchor="middle" textLength="15" lengthAdjust="spacingAndGlyphs" stroke="#111" stroke-width="0.1">0.70 – 1.46</text>
<text x="187.5" y="192.59" font-size="3.3" text-anchor="middle" stroke="#111" stroke-width="0.1">66.4 %</text>
<text x="200.7" y="192.59" font-size="3.3" text-anchor="middle" stroke="#111" stroke-width="0.1">3.6 %</text>
<text x="215.3" y="192.59" font-size="3.3" text-anchor="middle" stroke="#111" stroke-width="0.1">62</text>
<polyline points="163.45,137.05 166.16,138.82 169.42,141.48 172.5,145.32 175.21,148.87 177.93,150.94 181.55,152.71 186.07,153.6 190.6,154.48 199.65,155.61 208.7,156.2 226.8,156.79 235.85,157.26 244.9,158.15 253.95,159.04" fill="none" stroke="#555" stroke-width="0.95" stroke-linejoin="round"/>
<polyline points="163.45,136.6 166.16,138.37 169.42,140.74 172.5,144.28 175.21,147.53 177.93,149.9 181.55,151.38 186.07,152.56 190.6,153.44 199.65,154.8 208.7,155.51 226.8,156.22 235.85,156.69 244.9,157.58 253.95,158.47" fill="none" stroke="#222" stroke-width="1.1" stroke-linejoin="round"/>
<text x="142.3" y="212.75" font-size="3.2" font-weight="bold" textLength="22.5" lengthAdjust="spacingAndGlyphs" stroke="#111" stroke-width="0.14">Number at risk</text>
<text x="150.4" y="216.69" font-size="3.3" stroke="#111" stroke-width="0.1">DXM</text>
<text x="150.4" y="220.59" font-size="3.3" stroke="#111" stroke-width="0.1">PDN</text>
<text x="163.95" y="216.79" font-size="3.3" text-anchor="middle" stroke="#111" stroke-width="0.1">176</text>
<text x="173" y="216.79" font-size="3.3" text-anchor="middle" stroke="#111" stroke-width="0.1">153</text>
<text x="182.05" y="216.79" font-size="3.3" text-anchor="middle" stroke="#111" stroke-width="0.1">133</text>
<text x="191.1" y="216.79" font-size="3.3" text-anchor="middle" stroke="#111" stroke-width="0.1">124</text>
<text x="200.15" y="216.79" font-size="3.3" text-anchor="middle" stroke="#111" stroke-width="0.1">123</text>
<text x="209.2" y="216.79" font-size="3.3" text-anchor="middle" stroke="#111" stroke-width="0.1">118</text>
<text x="218.25" y="216.79" font-size="3.3" text-anchor="middle" stroke="#111" stroke-width="0.1">117</text>
<text x="227.3" y="216.79" font-size="3.3" text-anchor="middle" stroke="#111" stroke-width="0.1">100</text>
<text x="236.35" y="216.79" font-size="3.3" text-anchor="middle" stroke="#111" stroke-width="0.1">83</text>
<text x="245.4" y="216.79" font-size="3.3" text-anchor="middle" stroke="#111" stroke-width="0.1">68</text>
<text x="254.45" y="216.79" font-size="3.3" text-anchor="middle" stroke="#111" stroke-width="0.1">52</text>
<text x="163.95" y="220.59" font-size="3.3" text-anchor="middle" stroke="#111" stroke-width="0.1">176</text>
<text x="173" y="220.59" font-size="3.3" text-anchor="middle" stroke="#111" stroke-width="0.1">146</text>
<text x="182.05" y="220.59" font-size="3.3" text-anchor="middle" stroke="#111" stroke-width="0.1">128</text>
<text x="191.1" y="220.59" font-size="3.3" text-anchor="middle" stroke="#111" stroke-width="0.1">122</text>
<text x="200.15" y="220.59" font-size="3.3" text-anchor="middle" stroke="#111" stroke-width="0.1">117</text>
<text x="209.2" y="220.59" font-size="3.3" text-anchor="middle" stroke="#111" stroke-width="0.1">114</text>
<text x="218.25" y="220.59" font-size="3.3" text-anchor="middle" stroke="#111" stroke-width="0.1">108</text>
<text x="227.3" y="220.59" font-size="3.3" text-anchor="middle" stroke="#111" stroke-width="0.1">100</text>
<text x="236.35" y="220.59" font-size="3.3" text-anchor="middle" stroke="#111" stroke-width="0.1">82</text>
<text x="245.4" y="220.59" font-size="3.3" text-anchor="middle" stroke="#111" stroke-width="0.1">60</text>
<text x="254.45" y="220.59" font-size="3.3" text-anchor="middle" stroke="#111" stroke-width="0.1">34</text>
<text x="141.5" y="238.53" font-size="3.7" font-weight="bold" stroke="#111" stroke-width="0.3">Biii</text>
<text x="193.2" y="238.68" font-size="4.1" font-weight="bold" textLength="31.9" lengthAdjust="spacingAndGlyphs" stroke="#111" stroke-width="0.3">Overall survival</text>
<text x="229.9" y="244.69" font-size="3.3" textLength="23.1" lengthAdjust="spacingAndGlyphs" stroke="#111" stroke-width="0.1">P log-rank = .80</text>
<line x1="163.6" y1="242.3" x2="163.6" y2="303.4" stroke="#444" stroke-width="1"/>
<line x1="163.1" y1="302.9" x2="254.4" y2="302.9" stroke="#444" stroke-width="1"/>
<line x1="162.1" y1="296.29" x2="163.6" y2="296.29" stroke="#111" stroke-width="0.7"/>
<text x="161.1" y="297.41" font-size="3.1" text-anchor="end" stroke="#111" stroke-width="0.06">10</text>
<line x1="162.1" y1="290.38" x2="163.6" y2="290.38" stroke="#111" stroke-width="0.7"/>
<text x="161.1" y="291.5" font-size="3.1" text-anchor="end" stroke="#111" stroke-width="0.06">20</text>
<line x1="162.1" y1="284.47" x2="163.6" y2="284.47" stroke="#111" stroke-width="0.7"/>
<text x="161.1" y="285.59" font-size="3.1" text-anchor="end" stroke="#111" stroke-width="0.06">30</text>
<line x1="162.1" y1="278.56" x2="163.6" y2="278.56" stroke="#111" stroke-width="0.7"/>
<text x="161.1" y="279.68" font-size="3.1" text-anchor="end" stroke="#111" stroke-width="0.06">40</text>
<line x1="162.1" y1="272.65" x2="163.6" y2="272.65" stroke="#111" stroke-width="0.7"/>
<text x="161.1" y="273.77" font-size="3.1" text-anchor="end" stroke="#111" stroke-width="0.06">50</text>
<line x1="162.1" y1="266.74" x2="163.6" y2="266.74" stroke="#111" stroke-width="0.7"/>
<text x="161.1" y="267.86" font-size="3.1" text-anchor="end" stroke="#111" stroke-width="0.06">60</text>
<line x1="162.1" y1="260.83" x2="163.6" y2="260.83" stroke="#111" stroke-width="0.7"/>
<text x="161.1" y="261.95" font-size="3.1" text-anchor="end" stroke="#111" stroke-width="0.06">70</text>
<line x1="162.1" y1="254.92" x2="163.6" y2="254.92" stroke="#111" stroke-width="0.7"/>
<text x="161.1" y="256.04" font-size="3.1" text-anchor="end" stroke="#111" stroke-width="0.06">80</text>
<line x1="162.1" y1="249.01" x2="163.6" y2="249.01" stroke="#111" stroke-width="0.7"/>
<text x="161.1" y="250.13" font-size="3.1" text-anchor="end" stroke="#111" stroke-width="0.06">90</text>
<line x1="162.1" y1="243.1" x2="163.6" y2="243.1" stroke="#111" stroke-width="0.7"/>
<text x="161.1" y="244.22" font-size="3.1" text-anchor="end" stroke="#111" stroke-width="0.06">100</text>
<line x1="172.5" y1="301.4" x2="172.5" y2="303.3" stroke="#111" stroke-width="0.7"/>
<text x="172.5" y="308.12" font-size="3.1" text-anchor="middle" stroke="#111" stroke-width="0.06">1</text>
<line x1="181.55" y1="301.4" x2="181.55" y2="303.3" stroke="#111" stroke-width="0.7"/>
<text x="181.55" y="308.12" font-size="3.1" text-anchor="middle" stroke="#111" stroke-width="0.06">2</text>
<line x1="190.6" y1="301.4" x2="190.6" y2="303.3" stroke="#111" stroke-width="0.7"/>
<text x="190.6" y="308.12" font-size="3.1" text-anchor="middle" stroke="#111" stroke-width="0.06">3</text>
<line x1="199.65" y1="301.4" x2="199.65" y2="303.3" stroke="#111" stroke-width="0.7"/>
<text x="199.65" y="308.12" font-size="3.1" text-anchor="middle" stroke="#111" stroke-width="0.06">4</text>
<line x1="208.7" y1="301.4" x2="208.7" y2="303.3" stroke="#111" stroke-width="0.7"/>
<text x="208.7" y="308.12" font-size="3.1" text-anchor="middle" stroke="#111" stroke-width="0.06">5</text>
<line x1="217.75" y1="301.4" x2="217.75" y2="303.3" stroke="#111" stroke-width="0.7"/>
<text x="217.75" y="308.12" font-size="3.1" text-anchor="middle" stroke="#111" stroke-width="0.06">6</text>
<line x1="226.8" y1="301.4" x2="226.8" y2="303.3" stroke="#111" stroke-width="0.7"/>
<text x="226.8" y="308.12" font-size="3.1" text-anchor="middle" stroke="#111" stroke-width="0.06">7</text>
<line x1="235.85" y1="301.4" x2="235.85" y2="303.3" stroke="#111" stroke-width="0.7"/>
<text x="235.85" y="308.12" font-size="3.1" text-anchor="middle" stroke="#111" stroke-width="0.06">8</text>
<line x1="244.9" y1="301.4" x2="244.9" y2="303.3" stroke="#111" stroke-width="0.7"/>
<text x="244.9" y="308.12" font-size="3.1" text-anchor="middle" stroke="#111" stroke-width="0.06">9</text>
<line x1="253.95" y1="301.4" x2="253.95" y2="303.3" stroke="#111" stroke-width="0.7"/>
<text x="253.95" y="308.12" font-size="3.1" text-anchor="middle" stroke="#111" stroke-width="0.06">10</text>
<text x="159.1" y="308.12" font-size="3.1" text-anchor="middle" stroke="#111" stroke-width="0.06">0</text>
<text x="198.8" y="314.1" font-size="3.9" textLength="21.4" lengthAdjust="spacingAndGlyphs" stroke="#111" stroke-width="0.14">Time (years)</text>
<line x1="165" y1="293.8" x2="170.5" y2="293.8" stroke="#333" stroke-width="0.9"/>
<line x1="165" y1="297.7" x2="170.5" y2="297.7" stroke="#777" stroke-width="0.8"/>
<text x="171.3" y="294.99" font-size="3.3" stroke="#111" stroke-width="0.1">DXM</text>
<text x="171.3" y="298.89" font-size="3.3" stroke="#111" stroke-width="0.1">PDN</text>
<text x="187.5" y="291.59" font-size="3.3" text-anchor="middle" textLength="10.8" lengthAdjust="spacingAndGlyphs" stroke="#111" stroke-width="0.1">5 y pOS</text>
<text x="200.7" y="291.59" font-size="3.3" text-anchor="middle" stroke="#111" stroke-width="0.1">SE</text>
<text x="215.3" y="291.59" font-size="3.3" text-anchor="middle" stroke="#111" stroke-width="0.1">Deaths</text>
<text x="227.6" y="291.59" font-size="3.3" text-anchor="middle" stroke="#111" stroke-width="0.1">HR</text>
<text x="243.8" y="291.59" font-size="3.3" text-anchor="middle" stroke="#111" stroke-width="0.1">95% CI</text>
<text x="187.5" y="295.19" font-size="3.3" text-anchor="middle" stroke="#111" stroke-width="0.1">76.4 %</text>
<text x="200.7" y="295.19" font-size="3.3" text-anchor="middle" stroke="#111" stroke-width="0.1">3.2 %</text>
<text x="215.3" y="295.19" font-size="3.3" text-anchor="middle" stroke="#111" stroke-width="0.1">45</text>
<text x="227.6" y="295.19" font-size="3.3" text-anchor="middle" stroke="#111" stroke-width="0.1">0.94</text>
<text x="243.8" y="295.19" font-size="3.3" text-anchor="middle" textLength="15" lengthAdjust="spacingAndGlyphs" stroke="#111" stroke-width="0.1">0.61 – 1.46</text>
<text x="187.5" y="298.99" font-size="3.3" text-anchor="middle" stroke="#111" stroke-width="0.1">75.4 %</text>
<text x="200.7" y="298.99" font-size="3.3" text-anchor="middle" stroke="#111" stroke-width="0.1">3.3 %</text>
<text x="215.3" y="298.99" font-size="3.3" text-anchor="middle" stroke="#111" stroke-width="0.1">47</text>
<polyline points="163.45,243.55 166.16,244.73 169.42,247.1 172.5,249.16 177.02,251.82 181.55,254.19 186.53,255.96 190.6,256.67 199.65,257.44 217.75,257.73 235.85,258.03 253.95,258.32" fill="none" stroke="#555" stroke-width="0.95" stroke-linejoin="round"/>
<polyline points="163.45,243.1 166.16,243.69 169.42,244.52 172.5,246.94 177.02,250.78 181.55,253.44 186.53,255.22 190.6,256.1 199.65,256.81 217.75,257.28 235.85,257.58 253.95,257.76" fill="none" stroke="#222" stroke-width="1.1" stroke-linejoin="round"/>
<text x="142.3" y="319.65" font-size="3.2" font-weight="bold" textLength="22.5" lengthAdjust="spacingAndGlyphs" stroke="#111" stroke-width="0.14">Number at risk</text>
<text x="150.4" y="323.59" font-size="3.3" stroke="#111" stroke-width="0.1">DXM</text>
<text x="150.4" y="327.49" font-size="3.3" stroke="#111" stroke-width="0.1">PDN</text>
<text x="163.95" y="323.69" font-size="3.3" text-anchor="middle" stroke="#111" stroke-width="0.1">176</text>
<text x="173" y="323.69" font-size="3.3" text-anchor="middle" stroke="#111" stroke-width="0.1">161</text>
<text x="182.05" y="323.69" font-size="3.3" text-anchor="middle" stroke="#111" stroke-width="0.1">146</text>
<text x="191.1" y="323.69" font-size="3.3" text-anchor="middle" stroke="#111" stroke-width="0.1">137</text>
<text x="200.15" y="323.69" font-size="3.3" text-anchor="middle" stroke="#111" stroke-width="0.1">135</text>
<text x="209.2" y="323.69" font-size="3.3" text-anchor="middle" stroke="#111" stroke-width="0.1">134</text>
<text x="218.25" y="323.69" font-size="3.3" text-anchor="middle" stroke="#111" stroke-width="0.1">133</text>
<text x="227.3" y="323.69" font-size="3.3" text-anchor="middle" stroke="#111" stroke-width="0.1">119</text>
<text x="236.35" y="323.69" font-size="3.3" text-anchor="middle" stroke="#111" stroke-width="0.1">95</text>
<text x="245.4" y="323.69" font-size="3.3" text-anchor="middle" stroke="#111" stroke-width="0.1">70</text>
<text x="254.45" y="323.69" font-size="3.3" text-anchor="middle" stroke="#111" stroke-width="0.1">48</text>
<text x="163.95" y="327.49" font-size="3.3" text-anchor="middle" stroke="#111" stroke-width="0.1">176</text>
<text x="173" y="327.49" font-size="3.3" text-anchor="middle" stroke="#111" stroke-width="0.1">158</text>
<text x="182.05" y="327.49" font-size="3.3" text-anchor="middle" stroke="#111" stroke-width="0.1">143</text>
<text x="191.1" y="327.49" font-size="3.3" text-anchor="middle" stroke="#111" stroke-width="0.1">134</text>
<text x="200.15" y="327.49" font-size="3.3" text-anchor="middle" stroke="#111" stroke-width="0.1">131</text>
<text x="209.2" y="327.49" font-size="3.3" text-anchor="middle" stroke="#111" stroke-width="0.1">128</text>
<text x="218.25" y="327.49" font-size="3.3" text-anchor="middle" stroke="#111" stroke-width="0.1">126</text>
<text x="227.3" y="327.49" font-size="3.3" text-anchor="middle" stroke="#111" stroke-width="0.1">118</text>
<text x="236.35" y="327.49" font-size="3.3" text-anchor="middle" stroke="#111" stroke-width="0.1">96</text>
<text x="245.4" y="327.49" font-size="3.3" text-anchor="middle" stroke="#111" stroke-width="0.1">67</text>
<text x="254.45" y="327.49" font-size="3.3" text-anchor="middle" stroke="#111" stroke-width="0.1">44</text>
<text x="263.6" y="7.8" font-size="4.9" font-weight="bold" stroke="#111" stroke-width="0.3">C</text>
<text x="281.9" y="8" font-size="4.7" font-weight="bold" textLength="81.1" lengthAdjust="spacingAndGlyphs" stroke="#111" stroke-width="0.3">Prednisone good-response, pB-ALL</text>
<text x="269.2" y="15.33" font-size="3.7" font-weight="bold" stroke="#111" stroke-width="0.3">Ci</text>
<text x="292.9" y="15.74" font-size="4" font-weight="bold" textLength="77.6" lengthAdjust="spacingAndGlyphs" stroke="#111" stroke-width="0.3">Incidence of relapse and mortality rate</text>
<line x1="281.5" y1="24.2" x2="281.5" y2="73.5" stroke="#444" stroke-width="1"/>
<line x1="281" y1="73.5" x2="381" y2="73.5" stroke="#444" stroke-width="1"/>
<line x1="280" y1="63.78" x2="281.5" y2="63.78" stroke="#111" stroke-width="0.7"/>
<text x="278.7" y="64.9" font-size="3.1" text-anchor="end" stroke="#111" stroke-width="0.06">10</text>
<line x1="280" y1="54.16" x2="281.5" y2="54.16" stroke="#111" stroke-width="0.7"/>
<text x="278.7" y="55.28" font-size="3.1" text-anchor="end" stroke="#111" stroke-width="0.06">20</text>
<line x1="280" y1="44.54" x2="281.5" y2="44.54" stroke="#111" stroke-width="0.7"/>
<text x="278.7" y="45.66" font-size="3.1" text-anchor="end" stroke="#111" stroke-width="0.06">30</text>
<line x1="280" y1="34.92" x2="281.5" y2="34.92" stroke="#111" stroke-width="0.7"/>
<text x="278.7" y="36.04" font-size="3.1" text-anchor="end" stroke="#111" stroke-width="0.06">40</text>
<line x1="280" y1="25.3" x2="281.5" y2="25.3" stroke="#111" stroke-width="0.7"/>
<text x="278.7" y="26.42" font-size="3.1" text-anchor="end" stroke="#111" stroke-width="0.06">50</text>
<line x1="291.25" y1="72.6" x2="291.25" y2="74.3" stroke="#111" stroke-width="0.7"/>
<text x="291.25" y="79.02" font-size="3.1" text-anchor="middle" stroke="#111" stroke-width="0.06">1</text>
<line x1="301.14" y1="72.6" x2="301.14" y2="74.3" stroke="#111" stroke-width="0.7"/>
<text x="301.14" y="79.02" font-size="3.1" text-anchor="middle" stroke="#111" stroke-width="0.06">2</text>
<line x1="311.03" y1="72.6" x2="311.03" y2="74.3" stroke="#111" stroke-width="0.7"/>
<text x="311.03" y="79.02" font-size="3.1" text-anchor="middle" stroke="#111" stroke-width="0.06">3</text>
<line x1="320.92" y1="72.6" x2="320.92" y2="74.3" stroke="#111" stroke-width="0.7"/>
<text x="320.92" y="79.02" font-size="3.1" text-anchor="middle" stroke="#111" stroke-width="0.06">4</text>
<line x1="330.81" y1="72.6" x2="330.81" y2="74.3" stroke="#111" stroke-width="0.7"/>
<text x="330.81" y="79.02" font-size="3.1" text-anchor="middle" stroke="#111" stroke-width="0.06">5</text>
<line x1="340.7" y1="72.6" x2="340.7" y2="74.3" stroke="#111" stroke-width="0.7"/>
<text x="340.7" y="79.02" font-size="3.1" text-anchor="middle" stroke="#111" stroke-width="0.06">6</text>
<line x1="350.59" y1="72.6" x2="350.59" y2="74.3" stroke="#111" stroke-width="0.7"/>
<text x="350.59" y="79.02" font-size="3.1" text-anchor="middle" stroke="#111" stroke-width="0.06">7</text>
<line x1="360.48" y1="72.6" x2="360.48" y2="74.3" stroke="#111" stroke-width="0.7"/>
<text x="360.48" y="79.02" font-size="3.1" text-anchor="middle" stroke="#111" stroke-width="0.06">8</text>
<line x1="370.37" y1="72.6" x2="370.37" y2="74.3" stroke="#111" stroke-width="0.7"/>
<text x="370.37" y="79.02" font-size="3.1" text-anchor="middle" stroke="#111" stroke-width="0.06">9</text>
<line x1="380.26" y1="72.6" x2="380.26" y2="74.3" stroke="#111" stroke-width="0.7"/>
<text x="380.26" y="79.02" font-size="3.1" text-anchor="middle" stroke="#111" stroke-width="0.06">10</text>
<text x="277.5" y="79.02" font-size="3.1" text-anchor="middle" stroke="#111" stroke-width="0.06">0</text>
<text x="321.3" y="85.17" font-size="3.8" textLength="20.4" lengthAdjust="spacingAndGlyphs" stroke="#111" stroke-width="0.14">Time (years)</text>
<line x1="283.5" y1="34.2" x2="289.2" y2="34.2" stroke="#333" stroke-width="0.8"/>
<line x1="283.5" y1="38.3" x2="289.2" y2="38.3" stroke="#777" stroke-width="0.6"/>
<text x="289.8" y="35.79" font-size="3.3" stroke="#111" stroke-width="0.1">DXM</text>
<text x="289.8" y="39.59" font-size="3.3" stroke="#111" stroke-width="0.1">PDN</text>
<text x="308.5" y="32.49" font-size="3.3" text-anchor="middle" stroke="#111" stroke-width="0.1">5 y CIR</text>
<text x="322.5" y="32.49" font-size="3.3" text-anchor="middle" stroke="#111" stroke-width="0.1">SE</text>
<text x="339.4" y="32.49" font-size="3.3" text-anchor="middle" stroke="#111" stroke-width="0.1">Relapses</text>
<text x="354.2" y="32.49" font-size="3.3" text-anchor="middle" stroke="#111" stroke-width="0.1">HR</text>
<text x="370.4" y="32.49" font-size="3.3" text-anchor="middle" stroke="#111" stroke-width="0.1">95% CI</text>
<text x="308.5" y="35.99" font-size="3.3" text-anchor="middle" stroke="#111" stroke-width="0.1">9.6 %</text>
<text x="322.5" y="35.99" font-size="3.3" text-anchor="middle" stroke="#111" stroke-width="0.1">0.8 %</text>
<text x="339.4" y="35.99" font-size="3.3" text-anchor="middle" stroke="#111" stroke-width="0.1">173</text>
<text x="354.2" y="35.99" font-size="3.3" text-anchor="middle" stroke="#111" stroke-width="0.1">0.70</text>
<text x="370.4" y="35.99" font-size="3.3" text-anchor="middle" stroke="#111" stroke-width="0.1">0.57 – 0.86</text>
<text x="308.5" y="39.79" font-size="3.3" text-anchor="middle" stroke="#111" stroke-width="0.1">14.4 %</text>
<text x="322.5" y="39.79" font-size="3.3" text-anchor="middle" stroke="#111" stroke-width="0.1">0.9 %</text>
<text x="339.4" y="39.79" font-size="3.3" text-anchor="middle" stroke="#111" stroke-width="0.1">248</text>
<text x="358.2" y="71.19" font-size="3.3" textLength="19.3" lengthAdjust="spacingAndGlyphs" stroke="#111" stroke-width="0.1">P(gray) = .0001</text>
<polyline points="281.36,73.4 286.31,73.21 291.25,72.25 301.14,69.07 311.03,64.93 315.98,62.63 327.84,60.03 343.67,58.39 360.48,57.53 380.26,57.05" fill="none" stroke="#444" stroke-width="0.9" stroke-linejoin="round"/>
<polyline points="281.36,73.4 286.31,73.21 291.25,72.34 301.14,69.36 311.03,66.86 315.98,65.61 327.84,63.97 343.67,63.01 360.48,62.34 380.26,61.95" fill="none" stroke="#444" stroke-width="0.9" stroke-linejoin="round"/>
<text x="333.5" y="92.39" font-size="3.3" text-anchor="middle" stroke="#111" stroke-width="0.1">DXM</text>
<text x="352" y="92.39" font-size="3.3" text-anchor="middle" stroke="#111" stroke-width="0.1">PDN</text>
<text x="333.5" y="96.29" font-size="3.3" text-anchor="middle" stroke="#111" stroke-width="0.1">N (%)</text>
<text x="352" y="96.29" font-size="3.3" text-anchor="middle" stroke="#111" stroke-width="0.1">N (%)</text>
<text x="372" y="96.49" font-size="3.3" text-anchor="middle" stroke="#111" stroke-width="0.1">p</text>
<line x1="278.3" y1="98.3" x2="378.5" y2="98.3" stroke="#111" stroke-width="0.6"/>
<text x="278.3" y="102.59" font-size="3.3" textLength="24.5" lengthAdjust="spacingAndGlyphs" stroke="#111" stroke-width="0.1">Death before CR</text>
<text x="334.5" y="102.59" font-size="3.3" text-anchor="middle" stroke="#111" stroke-width="0.1">24 (1.6)</text>
<text x="352.2" y="102.59" font-size="3.3" text-anchor="middle" stroke="#111" stroke-width="0.1">14 (0.9)</text>
<text x="372" y="102.59" font-size="3.3" text-anchor="middle" stroke="#111" stroke-width="0.1">.09</text>
<text x="278.3" y="106.69" font-size="3.3" textLength="22.6" lengthAdjust="spacingAndGlyphs" stroke="#111" stroke-width="0.1">Death in 1st CR</text>
<text x="334.5" y="106.69" font-size="3.3" text-anchor="middle" stroke="#111" stroke-width="0.1">29 (1.7)</text>
<text x="352.2" y="106.69" font-size="3.3" text-anchor="middle" stroke="#111" stroke-width="0.1">19 (1.0)</text>
<text x="372" y="106.69" font-size="3.3" text-anchor="middle" stroke="#111" stroke-width="0.1">.23</text>
<text x="282.2" y="110.39" font-size="3.3" textLength="28.1" lengthAdjust="spacingAndGlyphs" stroke="#111" stroke-width="0.1">Related to induction</text>
<text x="334.5" y="110.39" font-size="3.3" text-anchor="middle" stroke="#111" stroke-width="0.1">8 (0.5)</text>
<text x="352.2" y="110.39" font-size="3.3" text-anchor="middle" stroke="#111" stroke-width="0.1">4 (0.3)</text>
<text x="372" y="110.39" font-size="3.3" text-anchor="middle" stroke="#111" stroke-width="0.1">.29</text>
<text x="282.2" y="113.79" font-size="3.3" textLength="33.1" lengthAdjust="spacingAndGlyphs" stroke="#111" stroke-width="0.1">Not related to induction</text>
<text x="334.5" y="113.79" font-size="3.3" text-anchor="middle" stroke="#111" stroke-width="0.1">21 (1.4)</text>
<text x="352.2" y="113.79" font-size="3.3" text-anchor="middle" stroke="#111" stroke-width="0.1">15 (1.0)</text>
<text x="372" y="113.79" font-size="3.3" text-anchor="middle" stroke="#111" stroke-width="0.1">.31</text>
<text x="269.3" y="132.13" font-size="3.7" font-weight="bold" stroke="#111" stroke-width="0.3">Cii</text>
<text x="312.8" y="132.28" font-size="4.1" font-weight="bold" textLength="37.2" lengthAdjust="spacingAndGlyphs" stroke="#111" stroke-width="0.3">Event-free survival</text>
<text x="356.1" y="138.39" font-size="3.3" textLength="24.5" lengthAdjust="spacingAndGlyphs" stroke="#111" stroke-width="0.1">P log-rank = .008</text>
<line x1="291.4" y1="135.8" x2="291.4" y2="196" stroke="#444" stroke-width="1"/>
<line x1="290.9" y1="195.5" x2="382.2" y2="195.5" stroke="#444" stroke-width="1"/>
<line x1="289.9" y1="189.79" x2="291.4" y2="189.79" stroke="#111" stroke-width="0.7"/>
<text x="288.9" y="190.91" font-size="3.1" text-anchor="end" stroke="#111" stroke-width="0.06">10</text>
<line x1="289.9" y1="183.88" x2="291.4" y2="183.88" stroke="#111" stroke-width="0.7"/>
<text x="288.9" y="185" font-size="3.1" text-anchor="end" stroke="#111" stroke-width="0.06">20</text>
<line x1="289.9" y1="177.97" x2="291.4" y2="177.97" stroke="#111" stroke-width="0.7"/>
<text x="288.9" y="179.09" font-size="3.1" text-anchor="end" stroke="#111" stroke-width="0.06">30</text>
<line x1="289.9" y1="172.06" x2="291.4" y2="172.06" stroke="#111" stroke-width="0.7"/>
<text x="288.9" y="173.18" font-size="3.1" text-anchor="end" stroke="#111" stroke-width="0.06">40</text>
<line x1="289.9" y1="166.15" x2="291.4" y2="166.15" stroke="#111" stroke-width="0.7"/>
<text x="288.9" y="167.27" font-size="3.1" text-anchor="end" stroke="#111" stroke-width="0.06">50</text>
<line x1="289.9" y1="160.24" x2="291.4" y2="160.24" stroke="#111" stroke-width="0.7"/>
<text x="288.9" y="161.36" font-size="3.1" text-anchor="end" stroke="#111" stroke-width="0.06">60</text>
<line x1="289.9" y1="154.33" x2="291.4" y2="154.33" stroke="#111" stroke-width="0.7"/>
<text x="288.9" y="155.45" font-size="3.1" text-anchor="end" stroke="#111" stroke-width="0.06">70</text>
<line x1="289.9" y1="148.42" x2="291.4" y2="148.42" stroke="#111" stroke-width="0.7"/>
<text x="288.9" y="149.54" font-size="3.1" text-anchor="end" stroke="#111" stroke-width="0.06">80</text>
<line x1="289.9" y1="142.51" x2="291.4" y2="142.51" stroke="#111" stroke-width="0.7"/>
<text x="288.9" y="143.63" font-size="3.1" text-anchor="end" stroke="#111" stroke-width="0.06">90</text>
<line x1="289.9" y1="136.6" x2="291.4" y2="136.6" stroke="#111" stroke-width="0.7"/>
<text x="288.9" y="137.72" font-size="3.1" text-anchor="end" stroke="#111" stroke-width="0.06">100</text>
<line x1="300.3" y1="194.9" x2="300.3" y2="196.8" stroke="#111" stroke-width="0.7"/>
<text x="300.3" y="201.72" font-size="3.1" text-anchor="middle" stroke="#111" stroke-width="0.06">1</text>
<line x1="309.35" y1="194.9" x2="309.35" y2="196.8" stroke="#111" stroke-width="0.7"/>
<text x="309.35" y="201.72" font-size="3.1" text-anchor="middle" stroke="#111" stroke-width="0.06">2</text>
<line x1="318.4" y1="194.9" x2="318.4" y2="196.8" stroke="#111" stroke-width="0.7"/>
<text x="318.4" y="201.72" font-size="3.1" text-anchor="middle" stroke="#111" stroke-width="0.06">3</text>
<line x1="327.45" y1="194.9" x2="327.45" y2="196.8" stroke="#111" stroke-width="0.7"/>
<text x="327.45" y="201.72" font-size="3.1" text-anchor="middle" stroke="#111" stroke-width="0.06">4</text>
<line x1="336.5" y1="194.9" x2="336.5" y2="196.8" stroke="#111" stroke-width="0.7"/>
<text x="336.5" y="201.72" font-size="3.1" text-anchor="middle" stroke="#111" stroke-width="0.06">5</text>
<line x1="345.55" y1="194.9" x2="345.55" y2="196.8" stroke="#111" stroke-width="0.7"/>
<text x="345.55" y="201.72" font-size="3.1" text-anchor="middle" stroke="#111" stroke-width="0.06">6</text>
<line x1="354.6" y1="194.9" x2="354.6" y2="196.8" stroke="#111" stroke-width="0.7"/>
<text x="354.6" y="201.72" font-size="3.1" text-anchor="middle" stroke="#111" stroke-width="0.06">7</text>
<line x1="363.65" y1="194.9" x2="363.65" y2="196.8" stroke="#111" stroke-width="0.7"/>
<text x="363.65" y="201.72" font-size="3.1" text-anchor="middle" stroke="#111" stroke-width="0.06">8</text>
<line x1="372.7" y1="194.9" x2="372.7" y2="196.8" stroke="#111" stroke-width="0.7"/>
<text x="372.7" y="201.72" font-size="3.1" text-anchor="middle" stroke="#111" stroke-width="0.06">9</text>
<line x1="381.75" y1="194.9" x2="381.75" y2="196.8" stroke="#111" stroke-width="0.7"/>
<text x="381.75" y="201.72" font-size="3.1" text-anchor="middle" stroke="#111" stroke-width="0.06">10</text>
<text x="286.9" y="201.72" font-size="3.1" text-anchor="middle" stroke="#111" stroke-width="0.06">0</text>
<text x="326.6" y="207.7" font-size="3.9" textLength="21.4" lengthAdjust="spacingAndGlyphs" stroke="#111" stroke-width="0.14">Time (years)</text>
<line x1="292.8" y1="187.4" x2="298.3" y2="187.4" stroke="#333" stroke-width="0.9"/>
<line x1="292.8" y1="191.3" x2="298.3" y2="191.3" stroke="#777" stroke-width="0.8"/>
<text x="299.1" y="188.59" font-size="3.3" stroke="#111" stroke-width="0.1">DXM</text>
<text x="299.1" y="192.49" font-size="3.3" stroke="#111" stroke-width="0.1">PDN</text>
<text x="315.3" y="185.19" font-size="3.3" text-anchor="middle" stroke="#111" stroke-width="0.1">5 y pEFS</text>
<text x="328.5" y="185.19" font-size="3.3" text-anchor="middle" stroke="#111" stroke-width="0.1">SE</text>
<text x="343.1" y="185.19" font-size="3.3" text-anchor="middle" stroke="#111" stroke-width="0.1">Events</text>
<text x="357.4" y="185.19" font-size="3.3" text-anchor="middle" stroke="#111" stroke-width="0.1">HR</text>
<text x="371.6" y="185.19" font-size="3.3" text-anchor="middle" stroke="#111" stroke-width="0.1">95% CI</text>
<text x="315.3" y="188.79" font-size="3.3" text-anchor="middle" stroke="#111" stroke-width="0.1">85.3 %</text>
<text x="328.5" y="188.79" font-size="3.3" text-anchor="middle" stroke="#111" stroke-width="0.1">0.9 %</text>
<text x="343.1" y="188.79" font-size="3.3" text-anchor="middle" stroke="#111" stroke-width="0.1">209</text>
<text x="357.4" y="188.79" font-size="3.3" text-anchor="middle" stroke="#111" stroke-width="0.1">0.80</text>
<text x="371.6" y="188.79" font-size="3.3" text-anchor="middle" textLength="15" lengthAdjust="spacingAndGlyphs" stroke="#111" stroke-width="0.1">0.71 – 0.98</text>
<text x="315.3" y="192.59" font-size="3.3" text-anchor="middle" stroke="#111" stroke-width="0.1">82.4 %</text>
<text x="328.5" y="192.59" font-size="3.3" text-anchor="middle" stroke="#111" stroke-width="0.1">1.0 %</text>
<text x="343.1" y="192.59" font-size="3.3" text-anchor="middle" stroke="#111" stroke-width="0.1">267</text>
<polyline points="291.25,137.05 300.3,138.82 307,140.6 313.88,142.66 323.83,145.03 334.69,147.16 345.55,147.98 363.65,148.57 381.75,149.05" fill="none" stroke="#555" stroke-width="0.95" stroke-linejoin="round"/>
<polyline points="291.25,136.6 300.3,138.37 307,140.03 313.88,141.92 323.83,144.28 334.69,145.58 345.55,146.06 363.65,146.47 381.75,146.77" fill="none" stroke="#222" stroke-width="1.1" stroke-linejoin="round"/>
<text x="270.1" y="212.75" font-size="3.2" font-weight="bold" textLength="22.5" lengthAdjust="spacingAndGlyphs" stroke="#111" stroke-width="0.14">Number at risk</text>
<text x="278.2" y="216.69" font-size="3.3" stroke="#111" stroke-width="0.1">DXM</text>
<text x="278.2" y="220.59" font-size="3.3" stroke="#111" stroke-width="0.1">PDN</text>
<text x="291.75" y="216.79" font-size="3.3" text-anchor="middle" stroke="#111" stroke-width="0.1">1486</text>
<text x="300.8" y="216.79" font-size="3.3" text-anchor="middle" stroke="#111" stroke-width="0.1">1429</text>
<text x="309.85" y="216.79" font-size="3.3" text-anchor="middle" stroke="#111" stroke-width="0.1">1380</text>
<text x="318.9" y="216.79" font-size="3.3" text-anchor="middle" stroke="#111" stroke-width="0.1">1313</text>
<text x="327.95" y="216.79" font-size="3.3" text-anchor="middle" stroke="#111" stroke-width="0.1">1258</text>
<text x="337" y="216.79" font-size="3.3" text-anchor="middle" stroke="#111" stroke-width="0.1">1204</text>
<text x="346.05" y="216.79" font-size="3.3" text-anchor="middle" stroke="#111" stroke-width="0.1">1144</text>
<text x="355.1" y="216.79" font-size="3.3" text-anchor="middle" stroke="#111" stroke-width="0.1">1054</text>
<text x="364.15" y="216.79" font-size="3.3" text-anchor="middle" stroke="#111" stroke-width="0.1">858</text>
<text x="373.2" y="216.79" font-size="3.3" text-anchor="middle" stroke="#111" stroke-width="0.1">646</text>
<text x="382.25" y="216.79" font-size="3.3" text-anchor="middle" stroke="#111" stroke-width="0.1">425</text>
<text x="291.75" y="220.59" font-size="3.3" text-anchor="middle" stroke="#111" stroke-width="0.1">1611</text>
<text x="300.8" y="220.59" font-size="3.3" text-anchor="middle" stroke="#111" stroke-width="0.1">1468</text>
<text x="309.85" y="220.59" font-size="3.3" text-anchor="middle" stroke="#111" stroke-width="0.1">1405</text>
<text x="318.9" y="220.59" font-size="3.3" text-anchor="middle" stroke="#111" stroke-width="0.1">1347</text>
<text x="327.95" y="220.59" font-size="3.3" text-anchor="middle" stroke="#111" stroke-width="0.1">1289</text>
<text x="337" y="220.59" font-size="3.3" text-anchor="middle" stroke="#111" stroke-width="0.1">1184</text>
<text x="346.05" y="220.59" font-size="3.3" text-anchor="middle" stroke="#111" stroke-width="0.1">1104</text>
<text x="355.1" y="220.59" font-size="3.3" text-anchor="middle" stroke="#111" stroke-width="0.1">1001</text>
<text x="364.15" y="220.59" font-size="3.3" text-anchor="middle" stroke="#111" stroke-width="0.1">871</text>
<text x="373.2" y="220.59" font-size="3.3" text-anchor="middle" stroke="#111" stroke-width="0.1">602</text>
<text x="382.25" y="220.59" font-size="3.3" text-anchor="middle" stroke="#111" stroke-width="0.1">417</text>
<text x="269.3" y="238.53" font-size="3.7" font-weight="bold" stroke="#111" stroke-width="0.3">Ciii</text>
<text x="315.7" y="238.68" font-size="4.1" font-weight="bold" textLength="31.9" lengthAdjust="spacingAndGlyphs" stroke="#111" stroke-width="0.3">Overall survival</text>
<text x="357.7" y="244.69" font-size="3.3" textLength="23.1" lengthAdjust="spacingAndGlyphs" stroke="#111" stroke-width="0.1">P log-rank = .15</text>
<line x1="291.4" y1="242.3" x2="291.4" y2="303.4" stroke="#444" stroke-width="1"/>
<line x1="290.9" y1="302.9" x2="382.2" y2="302.9" stroke="#444" stroke-width="1"/>
<line x1="289.9" y1="296.29" x2="291.4" y2="296.29" stroke="#111" stroke-width="0.7"/>
<text x="288.9" y="297.41" font-size="3.1" text-anchor="end" stroke="#111" stroke-width="0.06">10</text>
<line x1="289.9" y1="290.38" x2="291.4" y2="290.38" stroke="#111" stroke-width="0.7"/>
<text x="288.9" y="291.5" font-size="3.1" text-anchor="end" stroke="#111" stroke-width="0.06">20</text>
<line x1="289.9" y1="284.47" x2="291.4" y2="284.47" stroke="#111" stroke-width="0.7"/>
<text x="288.9" y="285.59" font-size="3.1" text-anchor="end" stroke="#111" stroke-width="0.06">30</text>
<line x1="289.9" y1="278.56" x2="291.4" y2="278.56" stroke="#111" stroke-width="0.7"/>
<text x="288.9" y="279.68" font-size="3.1" text-anchor="end" stroke="#111" stroke-width="0.06">40</text>
<line x1="289.9" y1="272.65" x2="291.4" y2="272.65" stroke="#111" stroke-width="0.7"/>
<text x="288.9" y="273.77" font-size="3.1" text-anchor="end" stroke="#111" stroke-width="0.06">50</text>
<line x1="289.9" y1="266.74" x2="291.4" y2="266.74" stroke="#111" stroke-width="0.7"/>
<text x="288.9" y="267.86" font-size="3.1" text-anchor="end" stroke="#111" stroke-width="0.06">60</text>
<line x1="289.9" y1="260.83" x2="291.4" y2="260.83" stroke="#111" stroke-width="0.7"/>
<text x="288.9" y="261.95" font-size="3.1" text-anchor="end" stroke="#111" stroke-width="0.06">70</text>
<line x1="289.9" y1="254.92" x2="291.4" y2="254.92" stroke="#111" stroke-width="0.7"/>
<text x="288.9" y="256.04" font-size="3.1" text-anchor="end" stroke="#111" stroke-width="0.06">80</text>
<line x1="289.9" y1="249.01" x2="291.4" y2="249.01" stroke="#111" stroke-width="0.7"/>
<text x="288.9" y="250.13" font-size="3.1" text-anchor="end" stroke="#111" stroke-width="0.06">90</text>
<line x1="289.9" y1="243.1" x2="291.4" y2="243.1" stroke="#111" stroke-width="0.7"/>
<text x="288.9" y="244.22" font-size="3.1" text-anchor="end" stroke="#111" stroke-width="0.06">100</text>
<line x1="300.3" y1="301.4" x2="300.3" y2="303.3" stroke="#111" stroke-width="0.7"/>
<text x="300.3" y="308.12" font-size="3.1" text-anchor="middle" stroke="#111" stroke-width="0.06">1</text>
<line x1="309.35" y1="301.4" x2="309.35" y2="303.3" stroke="#111" stroke-width="0.7"/>
<text x="309.35" y="308.12" font-size="3.1" text-anchor="middle" stroke="#111" stroke-width="0.06">2</text>
<line x1="318.4" y1="301.4" x2="318.4" y2="303.3" stroke="#111" stroke-width="0.7"/>
<text x="318.4" y="308.12" font-size="3.1" text-anchor="middle" stroke="#111" stroke-width="0.06">3</text>
<line x1="327.45" y1="301.4" x2="327.45" y2="303.3" stroke="#111" stroke-width="0.7"/>
<text x="327.45" y="308.12" font-size="3.1" text-anchor="middle" stroke="#111" stroke-width="0.06">4</text>
<line x1="336.5" y1="301.4" x2="336.5" y2="303.3" stroke="#111" stroke-width="0.7"/>
<text x="336.5" y="308.12" font-size="3.1" text-anchor="middle" stroke="#111" stroke-width="0.06">5</text>
<line x1="345.55" y1="301.4" x2="345.55" y2="303.3" stroke="#111" stroke-width="0.7"/>
<text x="345.55" y="308.12" font-size="3.1" text-anchor="middle" stroke="#111" stroke-width="0.06">6</text>
<line x1="354.6" y1="301.4" x2="354.6" y2="303.3" stroke="#111" stroke-width="0.7"/>
<text x="354.6" y="308.12" font-size="3.1" text-anchor="middle" stroke="#111" stroke-width="0.06">7</text>
<line x1="363.65" y1="301.4" x2="363.65" y2="303.3" stroke="#111" stroke-width="0.7"/>
<text x="363.65" y="308.12" font-size="3.1" text-anchor="middle" stroke="#111" stroke-width="0.06">8</text>
<line x1="372.7" y1="301.4" x2="372.7" y2="303.3" stroke="#111" stroke-width="0.7"/>
<text x="372.7" y="308.12" font-size="3.1" text-anchor="middle" stroke="#111" stroke-width="0.06">9</text>
<line x1="381.75" y1="301.4" x2="381.75" y2="303.3" stroke="#111" stroke-width="0.7"/>
<text x="381.75" y="308.12" font-size="3.1" text-anchor="middle" stroke="#111" stroke-width="0.06">10</text>
<text x="286.9" y="308.12" font-size="3.1" text-anchor="middle" stroke="#111" stroke-width="0.06">0</text>
<text x="326.6" y="314.1" font-size="3.9" textLength="21.4" lengthAdjust="spacingAndGlyphs" stroke="#111" stroke-width="0.14">Time (years)</text>
<line x1="292.8" y1="293.8" x2="298.3" y2="293.8" stroke="#333" stroke-width="0.9"/>
<line x1="292.8" y1="297.7" x2="298.3" y2="297.7" stroke="#777" stroke-width="0.8"/>
<text x="299.1" y="294.99" font-size="3.3" stroke="#111" stroke-width="0.1">DXM</text>
<text x="299.1" y="298.89" font-size="3.3" stroke="#111" stroke-width="0.1">PDN</text>
<text x="315.3" y="291.59" font-size="3.3" text-anchor="middle" textLength="10.8" lengthAdjust="spacingAndGlyphs" stroke="#111" stroke-width="0.1">5 y pOS</text>
<text x="328.5" y="291.59" font-size="3.3" text-anchor="middle" stroke="#111" stroke-width="0.1">SE</text>
<text x="343.1" y="291.59" font-size="3.3" text-anchor="middle" stroke="#111" stroke-width="0.1">Deaths</text>
<text x="355.4" y="291.59" font-size="3.3" text-anchor="middle" stroke="#111" stroke-width="0.1">HR</text>
<text x="371.6" y="291.59" font-size="3.3" text-anchor="middle" stroke="#111" stroke-width="0.1">95% CI</text>
<text x="315.3" y="295.19" font-size="3.3" text-anchor="middle" stroke="#111" stroke-width="0.1">91.8 %</text>
<text x="328.5" y="295.19" font-size="3.3" text-anchor="middle" stroke="#111" stroke-width="0.1">0.7 %</text>
<text x="343.1" y="295.19" font-size="3.3" text-anchor="middle" stroke="#111" stroke-width="0.1">103</text>
<text x="355.4" y="295.19" font-size="3.3" text-anchor="middle" stroke="#111" stroke-width="0.1">1.03</text>
<text x="371.6" y="295.19" font-size="3.3" text-anchor="middle" textLength="15" lengthAdjust="spacingAndGlyphs" stroke="#111" stroke-width="0.1">0.85 – 1.27</text>
<text x="315.3" y="298.99" font-size="3.3" text-anchor="middle" stroke="#111" stroke-width="0.1">90.4 %</text>
<text x="328.5" y="298.99" font-size="3.3" text-anchor="middle" stroke="#111" stroke-width="0.1">0.8 %</text>
<text x="343.1" y="298.99" font-size="3.3" text-anchor="middle" stroke="#111" stroke-width="0.1">106</text>
<polyline points="291.25,243.55 295.5,244.5 304.82,245.38 322.29,246.98 345.55,248.16 363.65,248.93 381.75,249.52" fill="none" stroke="#555" stroke-width="0.95" stroke-linejoin="round"/>
<polyline points="291.25,243.1 295.5,243.99 304.82,244.87 322.29,246.47 345.55,247.65 363.65,248.42 381.75,249.01" fill="none" stroke="#222" stroke-width="1.1" stroke-linejoin="round"/>
<text x="270.1" y="319.65" font-size="3.2" font-weight="bold" textLength="22.5" lengthAdjust="spacingAndGlyphs" stroke="#111" stroke-width="0.14">Number at risk</text>
<text x="278.2" y="323.59" font-size="3.3" stroke="#111" stroke-width="0.1">DXM</text>
<text x="278.2" y="327.49" font-size="3.3" stroke="#111" stroke-width="0.1">PDN</text>
<text x="291.75" y="323.69" font-size="3.3" text-anchor="middle" stroke="#111" stroke-width="0.1">1486</text>
<text x="300.8" y="323.69" font-size="3.3" text-anchor="middle" stroke="#111" stroke-width="0.1">1441</text>
<text x="309.85" y="323.69" font-size="3.3" text-anchor="middle" stroke="#111" stroke-width="0.1">1419</text>
<text x="318.9" y="323.69" font-size="3.3" text-anchor="middle" stroke="#111" stroke-width="0.1">1376</text>
<text x="327.95" y="323.69" font-size="3.3" text-anchor="middle" stroke="#111" stroke-width="0.1">1343</text>
<text x="337" y="323.69" font-size="3.3" text-anchor="middle" stroke="#111" stroke-width="0.1">1296</text>
<text x="346.05" y="323.69" font-size="3.3" text-anchor="middle" stroke="#111" stroke-width="0.1">1237</text>
<text x="355.1" y="323.69" font-size="3.3" text-anchor="middle" stroke="#111" stroke-width="0.1">1140</text>
<text x="364.15" y="323.69" font-size="3.3" text-anchor="middle" stroke="#111" stroke-width="0.1">932</text>
<text x="373.2" y="323.69" font-size="3.3" text-anchor="middle" stroke="#111" stroke-width="0.1">705</text>
<text x="382.25" y="323.69" font-size="3.3" text-anchor="middle" stroke="#111" stroke-width="0.1">446</text>
<text x="291.75" y="327.49" font-size="3.3" text-anchor="middle" stroke="#111" stroke-width="0.1">1611</text>
<text x="300.8" y="327.49" font-size="3.3" text-anchor="middle" stroke="#111" stroke-width="0.1">1475</text>
<text x="309.85" y="327.49" font-size="3.3" text-anchor="middle" stroke="#111" stroke-width="0.1">1452</text>
<text x="318.9" y="327.49" font-size="3.3" text-anchor="middle" stroke="#111" stroke-width="0.1">1409</text>
<text x="327.95" y="327.49" font-size="3.3" text-anchor="middle" stroke="#111" stroke-width="0.1">1378</text>
<text x="337" y="327.49" font-size="3.3" text-anchor="middle" stroke="#111" stroke-width="0.1">1326</text>
<text x="346.05" y="327.49" font-size="3.3" text-anchor="middle" stroke="#111" stroke-width="0.1">1257</text>
<text x="355.1" y="327.49" font-size="3.3" text-anchor="middle" stroke="#111" stroke-width="0.1">1140</text>
<text x="364.15" y="327.49" font-size="3.3" text-anchor="middle" stroke="#111" stroke-width="0.1">1027</text>
<text x="373.2" y="327.49" font-size="3.3" text-anchor="middle" stroke="#111" stroke-width="0.1">731</text>
<text x="382.25" y="327.49" font-size="3.3" text-anchor="middle" stroke="#111" stroke-width="0.1">443</text>
<text x="397" y="7.8" font-size="4.9" font-weight="bold" stroke="#111" stroke-width="0.3">D</text>
<text x="415.3" y="8" font-size="4.7" font-weight="bold" textLength="77.9" lengthAdjust="spacingAndGlyphs" stroke="#111" stroke-width="0.3">Prednisone good-response, T-ALL</text>
<text x="402.6" y="15.33" font-size="3.7" font-weight="bold" stroke="#111" stroke-width="0.3">Di</text>
<text x="426.3" y="15.74" font-size="4" font-weight="bold" textLength="77.6" lengthAdjust="spacingAndGlyphs" stroke="#111" stroke-width="0.3">Incidence of relapse and mortality rate</text>
<line x1="414.9" y1="24.2" x2="414.9" y2="73.5" stroke="#444" stroke-width="1"/>
<line x1="414.4" y1="73.5" x2="514.4" y2="73.5" stroke="#444" stroke-width="1"/>
<line x1="413.4" y1="63.78" x2="414.9" y2="63.78" stroke="#111" stroke-width="0.7"/>
<text x="412.1" y="64.9" font-size="3.1" text-anchor="end" stroke="#111" stroke-width="0.06">10</text>
<line x1="413.4" y1="54.16" x2="414.9" y2="54.16" stroke="#111" stroke-width="0.7"/>
<text x="412.1" y="55.28" font-size="3.1" text-anchor="end" stroke="#111" stroke-width="0.06">20</text>
<line x1="413.4" y1="44.54" x2="414.9" y2="44.54" stroke="#111" stroke-width="0.7"/>
<text x="412.1" y="45.66" font-size="3.1" text-anchor="end" stroke="#111" stroke-width="0.06">30</text>
<line x1="413.4" y1="34.92" x2="414.9" y2="34.92" stroke="#111" stroke-width="0.7"/>
<text x="412.1" y="36.04" font-size="3.1" text-anchor="end" stroke="#111" stroke-width="0.06">40</text>
<line x1="413.4" y1="25.3" x2="414.9" y2="25.3" stroke="#111" stroke-width="0.7"/>
<text x="412.1" y="26.42" font-size="3.1" text-anchor="end" stroke="#111" stroke-width="0.06">50</text>
<line x1="424.65" y1="72.6" x2="424.65" y2="74.3" stroke="#111" stroke-width="0.7"/>
<text x="424.65" y="79.02" font-size="3.1" text-anchor="middle" stroke="#111" stroke-width="0.06">1</text>
<line x1="434.54" y1="72.6" x2="434.54" y2="74.3" stroke="#111" stroke-width="0.7"/>
<text x="434.54" y="79.02" font-size="3.1" text-anchor="middle" stroke="#111" stroke-width="0.06">2</text>
<line x1="444.43" y1="72.6" x2="444.43" y2="74.3" stroke="#111" stroke-width="0.7"/>
<text x="444.43" y="79.02" font-size="3.1" text-anchor="middle" stroke="#111" stroke-width="0.06">3</text>
<line x1="454.32" y1="72.6" x2="454.32" y2="74.3" stroke="#111" stroke-width="0.7"/>
<text x="454.32" y="79.02" font-size="3.1" text-anchor="middle" stroke="#111" stroke-width="0.06">4</text>
<line x1="464.21" y1="72.6" x2="464.21" y2="74.3" stroke="#111" stroke-width="0.7"/>
<text x="464.21" y="79.02" font-size="3.1" text-anchor="middle" stroke="#111" stroke-width="0.06">5</text>
<line x1="474.1" y1="72.6" x2="474.1" y2="74.3" stroke="#111" stroke-width="0.7"/>
<text x="474.1" y="79.02" font-size="3.1" text-anchor="middle" stroke="#111" stroke-width="0.06">6</text>
<line x1="483.99" y1="72.6" x2="483.99" y2="74.3" stroke="#111" stroke-width="0.7"/>
<text x="483.99" y="79.02" font-size="3.1" text-anchor="middle" stroke="#111" stroke-width="0.06">7</text>
<line x1="493.88" y1="72.6" x2="493.88" y2="74.3" stroke="#111" stroke-width="0.7"/>
<text x="493.88" y="79.02" font-size="3.1" text-anchor="middle" stroke="#111" stroke-width="0.06">8</text>
<line x1="503.77" y1="72.6" x2="503.77" y2="74.3" stroke="#111" stroke-width="0.7"/>
<text x="503.77" y="79.02" font-size="3.1" text-anchor="middle" stroke="#111" stroke-width="0.06">9</text>
<line x1="513.66" y1="72.6" x2="513.66" y2="74.3" stroke="#111" stroke-width="0.7"/>
<text x="513.66" y="79.02" font-size="3.1" text-anchor="middle" stroke="#111" stroke-width="0.06">10</text>
<text x="410.9" y="79.02" font-size="3.1" text-anchor="middle" stroke="#111" stroke-width="0.06">0</text>
<text x="454.7" y="85.17" font-size="3.8" textLength="20.4" lengthAdjust="spacingAndGlyphs" stroke="#111" stroke-width="0.14">Time (years)</text>
<line x1="416.9" y1="34.2" x2="422.6" y2="34.2" stroke="#333" stroke-width="0.8"/>
<line x1="416.9" y1="38.3" x2="422.6" y2="38.3" stroke="#777" stroke-width="0.6"/>
<text x="423.2" y="35.79" font-size="3.3" stroke="#111" stroke-width="0.1">DXM</text>
<text x="423.2" y="39.59" font-size="3.3" stroke="#111" stroke-width="0.1">PDN</text>
<text x="441.9" y="32.49" font-size="3.3" text-anchor="middle" stroke="#111" stroke-width="0.1">5 y CIR</text>
<text x="455.9" y="32.49" font-size="3.3" text-anchor="middle" stroke="#111" stroke-width="0.1">SE</text>
<text x="472.8" y="32.49" font-size="3.3" text-anchor="middle" stroke="#111" stroke-width="0.1">Relapses</text>
<text x="487.6" y="32.49" font-size="3.3" text-anchor="middle" stroke="#111" stroke-width="0.1">HR</text>
<text x="503.8" y="32.49" font-size="3.3" text-anchor="middle" stroke="#111" stroke-width="0.1">95% CI</text>
<text x="441.9" y="35.99" font-size="3.3" text-anchor="middle" stroke="#111" stroke-width="0.1">7.3 %</text>
<text x="455.9" y="35.99" font-size="3.3" text-anchor="middle" stroke="#111" stroke-width="0.1">2.3 %</text>
<text x="472.8" y="35.99" font-size="3.3" text-anchor="middle" stroke="#111" stroke-width="0.1">11</text>
<text x="487.6" y="35.99" font-size="3.3" text-anchor="middle" stroke="#111" stroke-width="0.1">0.40</text>
<text x="503.8" y="35.99" font-size="3.3" text-anchor="middle" stroke="#111" stroke-width="0.1">0.20 – 0.81</text>
<text x="441.9" y="39.79" font-size="3.3" text-anchor="middle" stroke="#111" stroke-width="0.1">17.5 %</text>
<text x="455.9" y="39.79" font-size="3.3" text-anchor="middle" stroke="#111" stroke-width="0.1">3.2 %</text>
<text x="472.8" y="39.79" font-size="3.3" text-anchor="middle" stroke="#111" stroke-width="0.1">26</text>
<text x="490.9" y="71.19" font-size="3.3" textLength="20" lengthAdjust="spacingAndGlyphs" stroke="#111" stroke-width="0.1">P(gray) = .0079</text>
<polyline points="414.76,73.4 417.73,72.44 420.2,70.03 422.67,67.63 426.23,63.97 430.19,60.03 434.24,58.01 438.3,57.05 473.11,57.05 474.1,55.6 513.66,55.6" fill="none" stroke="#444" stroke-width="0.9" stroke-linejoin="round"/>
<polyline points="414.76,73.4 419.7,72.92 422.18,71.96 424.65,71.96 425.24,68.97 430.19,68.01 436.22,67.63 444.43,67.15 464.21,66.38 474.1,65.99 513.66,65.99" fill="none" stroke="#444" stroke-width="0.9" stroke-linejoin="round"/>
<text x="466.9" y="92.39" font-size="3.3" text-anchor="middle" stroke="#111" stroke-width="0.1">DXM</text>
<text x="485.4" y="92.39" font-size="3.3" text-anchor="middle" stroke="#111" stroke-width="0.1">PDN</text>
<text x="466.9" y="96.29" font-size="3.3" text-anchor="middle" stroke="#111" stroke-width="0.1">N (%)</text>
<text x="485.4" y="96.29" font-size="3.3" text-anchor="middle" stroke="#111" stroke-width="0.1">N (%)</text>
<text x="505.4" y="96.49" font-size="3.3" text-anchor="middle" stroke="#111" stroke-width="0.1">p</text>
<line x1="411.7" y1="98.3" x2="511.9" y2="98.3" stroke="#111" stroke-width="0.6"/>
<text x="411.7" y="102.59" font-size="3.3" textLength="24.5" lengthAdjust="spacingAndGlyphs" stroke="#111" stroke-width="0.1">Death before CR</text>
<text x="467.9" y="102.59" font-size="3.3" text-anchor="middle" stroke="#111" stroke-width="0.1">0 (0.1)</text>
<text x="485.6" y="102.59" font-size="3.3" text-anchor="middle" stroke="#111" stroke-width="0.1">1 (0.7)</text>
<text x="505.4" y="102.59" font-size="3.3" text-anchor="middle" stroke="#111" stroke-width="0.1">.40</text>
<text x="411.7" y="106.69" font-size="3.3" textLength="22.6" lengthAdjust="spacingAndGlyphs" stroke="#111" stroke-width="0.1">Death in 1st CR</text>
<text x="467.9" y="106.69" font-size="3.3" text-anchor="middle" stroke="#111" stroke-width="0.1">0 (0.1)</text>
<text x="485.6" y="106.69" font-size="3.3" text-anchor="middle" stroke="#111" stroke-width="0.1">3 (1.6)</text>
<text x="505.4" y="106.69" font-size="3.3" text-anchor="middle" stroke="#111" stroke-width="0.1">1.00</text>
<text x="415.6" y="110.39" font-size="3.3" textLength="28.1" lengthAdjust="spacingAndGlyphs" stroke="#111" stroke-width="0.1">Related to induction</text>
<text x="467.9" y="110.39" font-size="3.3" text-anchor="middle" stroke="#111" stroke-width="0.1">0 (0.0)</text>
<text x="485.6" y="110.39" font-size="3.3" text-anchor="middle" stroke="#111" stroke-width="0.1">0 (0.0)</text>
<text x="505.4" y="110.39" font-size="3.3" text-anchor="middle" stroke="#111" stroke-width="0.1">–</text>
<text x="415.6" y="113.79" font-size="3.3" textLength="33.1" lengthAdjust="spacingAndGlyphs" stroke="#111" stroke-width="0.1">Not related to induction</text>
<text x="467.9" y="113.79" font-size="3.3" text-anchor="middle" stroke="#111" stroke-width="0.1">0 (0.1)</text>
<text x="485.6" y="113.79" font-size="3.3" text-anchor="middle" stroke="#111" stroke-width="0.1">3 (1.6)</text>
<text x="505.4" y="113.79" font-size="3.3" text-anchor="middle" stroke="#111" stroke-width="0.1">1.00</text>
<text x="401.6" y="132.13" font-size="3.7" font-weight="bold" stroke="#111" stroke-width="0.3">Dii</text>
<text x="450.4" y="132.28" font-size="4.1" font-weight="bold" textLength="37.2" lengthAdjust="spacingAndGlyphs" stroke="#111" stroke-width="0.3">Event-free survival</text>
<text x="488.4" y="138.39" font-size="3.3" textLength="24.5" lengthAdjust="spacingAndGlyphs" stroke="#111" stroke-width="0.1">P log-rank = .007</text>
<line x1="423.7" y1="135.8" x2="423.7" y2="196" stroke="#444" stroke-width="1"/>
<line x1="423.2" y1="195.5" x2="514.5" y2="195.5" stroke="#444" stroke-width="1"/>
<line x1="422.2" y1="189.79" x2="423.7" y2="189.79" stroke="#111" stroke-width="0.7"/>
<text x="421.2" y="190.91" font-size="3.1" text-anchor="end" stroke="#111" stroke-width="0.06">10</text>
<line x1="422.2" y1="183.88" x2="423.7" y2="183.88" stroke="#111" stroke-width="0.7"/>
<text x="421.2" y="185" font-size="3.1" text-anchor="end" stroke="#111" stroke-width="0.06">20</text>
<line x1="422.2" y1="177.97" x2="423.7" y2="177.97" stroke="#111" stroke-width="0.7"/>
<text x="421.2" y="179.09" font-size="3.1" text-anchor="end" stroke="#111" stroke-width="0.06">30</text>
<line x1="422.2" y1="172.06" x2="423.7" y2="172.06" stroke="#111" stroke-width="0.7"/>
<text x="421.2" y="173.18" font-size="3.1" text-anchor="end" stroke="#111" stroke-width="0.06">40</text>
<line x1="422.2" y1="166.15" x2="423.7" y2="166.15" stroke="#111" stroke-width="0.7"/>
<text x="421.2" y="167.27" font-size="3.1" text-anchor="end" stroke="#111" stroke-width="0.06">50</text>
<line x1="422.2" y1="160.24" x2="423.7" y2="160.24" stroke="#111" stroke-width="0.7"/>
<text x="421.2" y="161.36" font-size="3.1" text-anchor="end" stroke="#111" stroke-width="0.06">60</text>
<line x1="422.2" y1="154.33" x2="423.7" y2="154.33" stroke="#111" stroke-width="0.7"/>
<text x="421.2" y="155.45" font-size="3.1" text-anchor="end" stroke="#111" stroke-width="0.06">70</text>
<line x1="422.2" y1="148.42" x2="423.7" y2="148.42" stroke="#111" stroke-width="0.7"/>
<text x="421.2" y="149.54" font-size="3.1" text-anchor="end" stroke="#111" stroke-width="0.06">80</text>
<line x1="422.2" y1="142.51" x2="423.7" y2="142.51" stroke="#111" stroke-width="0.7"/>
<text x="421.2" y="143.63" font-size="3.1" text-anchor="end" stroke="#111" stroke-width="0.06">90</text>
<line x1="422.2" y1="136.6" x2="423.7" y2="136.6" stroke="#111" stroke-width="0.7"/>
<text x="421.2" y="137.72" font-size="3.1" text-anchor="end" stroke="#111" stroke-width="0.06">100</text>
<line x1="432.6" y1="194.9" x2="432.6" y2="196.8" stroke="#111" stroke-width="0.7"/>
<text x="432.6" y="201.72" font-size="3.1" text-anchor="middle" stroke="#111" stroke-width="0.06">1</text>
<line x1="441.65" y1="194.9" x2="441.65" y2="196.8" stroke="#111" stroke-width="0.7"/>
<text x="441.65" y="201.72" font-size="3.1" text-anchor="middle" stroke="#111" stroke-width="0.06">2</text>
<line x1="450.7" y1="194.9" x2="450.7" y2="196.8" stroke="#111" stroke-width="0.7"/>
<text x="450.7" y="201.72" font-size="3.1" text-anchor="middle" stroke="#111" stroke-width="0.06">3</text>
<line x1="459.75" y1="194.9" x2="459.75" y2="196.8" stroke="#111" stroke-width="0.7"/>
<text x="459.75" y="201.72" font-size="3.1" text-anchor="middle" stroke="#111" stroke-width="0.06">4</text>
<line x1="468.8" y1="194.9" x2="468.8" y2="196.8" stroke="#111" stroke-width="0.7"/>
<text x="468.8" y="201.72" font-size="3.1" text-anchor="middle" stroke="#111" stroke-width="0.06">5</text>
<line x1="477.85" y1="194.9" x2="477.85" y2="196.8" stroke="#111" stroke-width="0.7"/>
<text x="477.85" y="201.72" font-size="3.1" text-anchor="middle" stroke="#111" stroke-width="0.06">6</text>
<line x1="486.9" y1="194.9" x2="486.9" y2="196.8" stroke="#111" stroke-width="0.7"/>
<text x="486.9" y="201.72" font-size="3.1" text-anchor="middle" stroke="#111" stroke-width="0.06">7</text>
<line x1="495.95" y1="194.9" x2="495.95" y2="196.8" stroke="#111" stroke-width="0.7"/>
<text x="495.95" y="201.72" font-size="3.1" text-anchor="middle" stroke="#111" stroke-width="0.06">8</text>
<line x1="505" y1="194.9" x2="505" y2="196.8" stroke="#111" stroke-width="0.7"/>
<text x="505" y="201.72" font-size="3.1" text-anchor="middle" stroke="#111" stroke-width="0.06">9</text>
<line x1="514.05" y1="194.9" x2="514.05" y2="196.8" stroke="#111" stroke-width="0.7"/>
<text x="514.05" y="201.72" font-size="3.1" text-anchor="middle" stroke="#111" stroke-width="0.06">10</text>
<text x="419.2" y="201.72" font-size="3.1" text-anchor="middle" stroke="#111" stroke-width="0.06">0</text>
<text x="458.9" y="207.7" font-size="3.9" textLength="21.4" lengthAdjust="spacingAndGlyphs" stroke="#111" stroke-width="0.14">Time (years)</text>
<line x1="425.1" y1="187.4" x2="430.6" y2="187.4" stroke="#333" stroke-width="0.9"/>
<line x1="425.1" y1="191.3" x2="430.6" y2="191.3" stroke="#777" stroke-width="0.8"/>
<text x="431.4" y="188.59" font-size="3.3" stroke="#111" stroke-width="0.1">DXM</text>
<text x="431.4" y="192.49" font-size="3.3" stroke="#111" stroke-width="0.1">PDN</text>
<text x="447.6" y="185.19" font-size="3.3" text-anchor="middle" stroke="#111" stroke-width="0.1">5 y pEFS</text>
<text x="460.8" y="185.19" font-size="3.3" text-anchor="middle" stroke="#111" stroke-width="0.1">SE</text>
<text x="475.4" y="185.19" font-size="3.3" text-anchor="middle" stroke="#111" stroke-width="0.1">Events</text>
<text x="489.7" y="185.19" font-size="3.3" text-anchor="middle" stroke="#111" stroke-width="0.1">HR</text>
<text x="503.9" y="185.19" font-size="3.3" text-anchor="middle" stroke="#111" stroke-width="0.1">95% CI</text>
<text x="447.6" y="188.79" font-size="3.3" text-anchor="middle" stroke="#111" stroke-width="0.1">87.4 %</text>
<text x="460.8" y="188.79" font-size="3.3" text-anchor="middle" stroke="#111" stroke-width="0.1">2.8 %</text>
<text x="475.4" y="188.79" font-size="3.3" text-anchor="middle" stroke="#111" stroke-width="0.1">20</text>
<text x="489.7" y="188.79" font-size="3.3" text-anchor="middle" stroke="#111" stroke-width="0.1">0.50</text>
<text x="503.9" y="188.79" font-size="3.3" text-anchor="middle" textLength="15" lengthAdjust="spacingAndGlyphs" stroke="#111" stroke-width="0.1">0.32 – 0.87</text>
<text x="447.6" y="192.59" font-size="3.3" text-anchor="middle" stroke="#111" stroke-width="0.1">78.3 %</text>
<text x="460.8" y="192.59" font-size="3.3" text-anchor="middle" stroke="#111" stroke-width="0.1">3.4 %</text>
<text x="475.4" y="192.59" font-size="3.3" text-anchor="middle" stroke="#111" stroke-width="0.1">34</text>
<polyline points="423.55,137.05 427.17,138.53 431.33,140.95 435.04,144.14 438.03,146.51 440.11,147.27 445.09,148.93 459.75,149.46 480.2,149.87 490.16,150.64 500.2,151.47 514.05,152.42" fill="none" stroke="#555" stroke-width="0.95" stroke-linejoin="round"/>
<polyline points="423.55,136.6 427.17,137.78 431.33,139.26 436.04,140.74 440.11,141.8 446.54,143.1 459.75,143.81 486.9,144.28 487.81,145.23 514.05,145.35" fill="none" stroke="#222" stroke-width="1.1" stroke-linejoin="round"/>
<text x="402.4" y="212.75" font-size="3.2" font-weight="bold" textLength="22.5" lengthAdjust="spacingAndGlyphs" stroke="#111" stroke-width="0.14">Number at risk</text>
<text x="410.5" y="216.69" font-size="3.3" stroke="#111" stroke-width="0.1">DXM</text>
<text x="410.5" y="220.59" font-size="3.3" stroke="#111" stroke-width="0.1">PDN</text>
<text x="424.05" y="216.79" font-size="3.3" text-anchor="middle" stroke="#111" stroke-width="0.1">145</text>
<text x="433.1" y="216.79" font-size="3.3" text-anchor="middle" stroke="#111" stroke-width="0.1">132</text>
<text x="442.15" y="216.79" font-size="3.3" text-anchor="middle" stroke="#111" stroke-width="0.1">124</text>
<text x="451.2" y="216.79" font-size="3.3" text-anchor="middle" stroke="#111" stroke-width="0.1">121</text>
<text x="460.25" y="216.79" font-size="3.3" text-anchor="middle" stroke="#111" stroke-width="0.1">118</text>
<text x="469.3" y="216.79" font-size="3.3" text-anchor="middle" stroke="#111" stroke-width="0.1">113</text>
<text x="478.35" y="216.79" font-size="3.3" text-anchor="middle" stroke="#111" stroke-width="0.1">108</text>
<text x="487.4" y="216.79" font-size="3.3" text-anchor="middle" stroke="#111" stroke-width="0.1">92</text>
<text x="496.45" y="216.79" font-size="3.3" text-anchor="middle" stroke="#111" stroke-width="0.1">71</text>
<text x="505.5" y="216.79" font-size="3.3" text-anchor="middle" stroke="#111" stroke-width="0.1">58</text>
<text x="514.55" y="216.79" font-size="3.3" text-anchor="middle" stroke="#111" stroke-width="0.1">40</text>
<text x="424.05" y="220.59" font-size="3.3" text-anchor="middle" stroke="#111" stroke-width="0.1">145</text>
<text x="433.1" y="220.59" font-size="3.3" text-anchor="middle" stroke="#111" stroke-width="0.1">131</text>
<text x="442.15" y="220.59" font-size="3.3" text-anchor="middle" stroke="#111" stroke-width="0.1">112</text>
<text x="451.2" y="220.59" font-size="3.3" text-anchor="middle" stroke="#111" stroke-width="0.1">108</text>
<text x="460.25" y="220.59" font-size="3.3" text-anchor="middle" stroke="#111" stroke-width="0.1">106</text>
<text x="469.3" y="220.59" font-size="3.3" text-anchor="middle" stroke="#111" stroke-width="0.1">104</text>
<text x="478.35" y="220.59" font-size="3.3" text-anchor="middle" stroke="#111" stroke-width="0.1">97</text>
<text x="487.4" y="220.59" font-size="3.3" text-anchor="middle" stroke="#111" stroke-width="0.1">88</text>
<text x="496.45" y="220.59" font-size="3.3" text-anchor="middle" stroke="#111" stroke-width="0.1">74</text>
<text x="505.5" y="220.59" font-size="3.3" text-anchor="middle" stroke="#111" stroke-width="0.1">60</text>
<text x="514.55" y="220.59" font-size="3.3" text-anchor="middle" stroke="#111" stroke-width="0.1">37</text>
<text x="401.6" y="238.53" font-size="3.7" font-weight="bold" stroke="#111" stroke-width="0.3">Diii</text>
<text x="453.3" y="238.68" font-size="4.1" font-weight="bold" textLength="31.9" lengthAdjust="spacingAndGlyphs" stroke="#111" stroke-width="0.3">Overall survival</text>
<text x="490" y="244.69" font-size="3.3" textLength="23.1" lengthAdjust="spacingAndGlyphs" stroke="#111" stroke-width="0.1">P log-rank = .036</text>
<line x1="423.7" y1="242.3" x2="423.7" y2="303.4" stroke="#444" stroke-width="1"/>
<line x1="423.2" y1="302.9" x2="514.5" y2="302.9" stroke="#444" stroke-width="1"/>
<line x1="422.2" y1="296.29" x2="423.7" y2="296.29" stroke="#111" stroke-width="0.7"/>
<text x="421.2" y="297.41" font-size="3.1" text-anchor="end" stroke="#111" stroke-width="0.06">10</text>
<line x1="422.2" y1="290.38" x2="423.7" y2="290.38" stroke="#111" stroke-width="0.7"/>
<text x="421.2" y="291.5" font-size="3.1" text-anchor="end" stroke="#111" stroke-width="0.06">20</text>
<line x1="422.2" y1="284.47" x2="423.7" y2="284.47" stroke="#111" stroke-width="0.7"/>
<text x="421.2" y="285.59" font-size="3.1" text-anchor="end" stroke="#111" stroke-width="0.06">30</text>
<line x1="422.2" y1="278.56" x2="423.7" y2="278.56" stroke="#111" stroke-width="0.7"/>
<text x="421.2" y="279.68" font-size="3.1" text-anchor="end" stroke="#111" stroke-width="0.06">40</text>
<line x1="422.2" y1="272.65" x2="423.7" y2="272.65" stroke="#111" stroke-width="0.7"/>
<text x="421.2" y="273.77" font-size="3.1" text-anchor="end" stroke="#111" stroke-width="0.06">50</text>
<line x1="422.2" y1="266.74" x2="423.7" y2="266.74" stroke="#111" stroke-width="0.7"/>
<text x="421.2" y="267.86" font-size="3.1" text-anchor="end" stroke="#111" stroke-width="0.06">60</text>
<line x1="422.2" y1="260.83" x2="423.7" y2="260.83" stroke="#111" stroke-width="0.7"/>
<text x="421.2" y="261.95" font-size="3.1" text-anchor="end" stroke="#111" stroke-width="0.06">70</text>
<line x1="422.2" y1="254.92" x2="423.7" y2="254.92" stroke="#111" stroke-width="0.7"/>
<text x="421.2" y="256.04" font-size="3.1" text-anchor="end" stroke="#111" stroke-width="0.06">80</text>
<line x1="422.2" y1="249.01" x2="423.7" y2="249.01" stroke="#111" stroke-width="0.7"/>
<text x="421.2" y="250.13" font-size="3.1" text-anchor="end" stroke="#111" stroke-width="0.06">90</text>
<line x1="422.2" y1="243.1" x2="423.7" y2="243.1" stroke="#111" stroke-width="0.7"/>
<text x="421.2" y="244.22" font-size="3.1" text-anchor="end" stroke="#111" stroke-width="0.06">100</text>
<line x1="432.6" y1="301.4" x2="432.6" y2="303.3" stroke="#111" stroke-width="0.7"/>
<text x="432.6" y="308.12" font-size="3.1" text-anchor="middle" stroke="#111" stroke-width="0.06">1</text>
<line x1="441.65" y1="301.4" x2="441.65" y2="303.3" stroke="#111" stroke-width="0.7"/>
<text x="441.65" y="308.12" font-size="3.1" text-anchor="middle" stroke="#111" stroke-width="0.06">2</text>
<line x1="450.7" y1="301.4" x2="450.7" y2="303.3" stroke="#111" stroke-width="0.7"/>
<text x="450.7" y="308.12" font-size="3.1" text-anchor="middle" stroke="#111" stroke-width="0.06">3</text>
<line x1="459.75" y1="301.4" x2="459.75" y2="303.3" stroke="#111" stroke-width="0.7"/>
<text x="459.75" y="308.12" font-size="3.1" text-anchor="middle" stroke="#111" stroke-width="0.06">4</text>
<line x1="468.8" y1="301.4" x2="468.8" y2="303.3" stroke="#111" stroke-width="0.7"/>
<text x="468.8" y="308.12" font-size="3.1" text-anchor="middle" stroke="#111" stroke-width="0.06">5</text>
<line x1="477.85" y1="301.4" x2="477.85" y2="303.3" stroke="#111" stroke-width="0.7"/>
<text x="477.85" y="308.12" font-size="3.1" text-anchor="middle" stroke="#111" stroke-width="0.06">6</text>
<line x1="486.9" y1="301.4" x2="486.9" y2="303.3" stroke="#111" stroke-width="0.7"/>
<text x="486.9" y="308.12" font-size="3.1" text-anchor="middle" stroke="#111" stroke-width="0.06">7</text>
<line x1="495.95" y1="301.4" x2="495.95" y2="303.3" stroke="#111" stroke-width="0.7"/>
<text x="495.95" y="308.12" font-size="3.1" text-anchor="middle" stroke="#111" stroke-width="0.06">8</text>
<line x1="505" y1="301.4" x2="505" y2="303.3" stroke="#111" stroke-width="0.7"/>
<text x="505" y="308.12" font-size="3.1" text-anchor="middle" stroke="#111" stroke-width="0.06">9</text>
<line x1="514.05" y1="301.4" x2="514.05" y2="303.3" stroke="#111" stroke-width="0.7"/>
<text x="514.05" y="308.12" font-size="3.1" text-anchor="middle" stroke="#111" stroke-width="0.06">10</text>
<text x="419.2" y="308.12" font-size="3.1" text-anchor="middle" stroke="#111" stroke-width="0.06">0</text>
<text x="458.9" y="314.1" font-size="3.9" textLength="21.4" lengthAdjust="spacingAndGlyphs" stroke="#111" stroke-width="0.14">Time (years)</text>
<line x1="425.1" y1="293.8" x2="430.6" y2="293.8" stroke="#333" stroke-width="0.9"/>
<line x1="425.1" y1="297.7" x2="430.6" y2="297.7" stroke="#777" stroke-width="0.8"/>
<text x="431.4" y="294.99" font-size="3.3" stroke="#111" stroke-width="0.1">DXM</text>
<text x="431.4" y="298.89" font-size="3.3" stroke="#111" stroke-width="0.1">PDN</text>
<text x="447.6" y="291.59" font-size="3.3" text-anchor="middle" textLength="10.8" lengthAdjust="spacingAndGlyphs" stroke="#111" stroke-width="0.1">5 y pOS</text>
<text x="460.8" y="291.59" font-size="3.3" text-anchor="middle" stroke="#111" stroke-width="0.1">SE</text>
<text x="475.4" y="291.59" font-size="3.3" text-anchor="middle" stroke="#111" stroke-width="0.1">Deaths</text>
<text x="487.7" y="291.59" font-size="3.3" text-anchor="middle" stroke="#111" stroke-width="0.1">HR</text>
<text x="503.9" y="291.59" font-size="3.3" text-anchor="middle" stroke="#111" stroke-width="0.1">95% CI</text>
<text x="447.6" y="295.19" font-size="3.3" text-anchor="middle" stroke="#111" stroke-width="0.1">91.4 %</text>
<text x="460.8" y="295.19" font-size="3.3" text-anchor="middle" stroke="#111" stroke-width="0.1">2.4 %</text>
<text x="475.4" y="295.19" font-size="3.3" text-anchor="middle" stroke="#111" stroke-width="0.1">14</text>
<text x="487.7" y="295.19" font-size="3.3" text-anchor="middle" stroke="#111" stroke-width="0.1">0.51</text>
<text x="503.9" y="295.19" font-size="3.3" text-anchor="middle" textLength="15" lengthAdjust="spacingAndGlyphs" stroke="#111" stroke-width="0.1">0.27 – 1.07</text>
<text x="447.6" y="298.99" font-size="3.3" text-anchor="middle" stroke="#111" stroke-width="0.1">82.4 %</text>
<text x="460.8" y="298.99" font-size="3.3" text-anchor="middle" stroke="#111" stroke-width="0.1">3.3 %</text>
<text x="475.4" y="298.99" font-size="3.3" text-anchor="middle" stroke="#111" stroke-width="0.1">27</text>
<polyline points="423.55,243.55 427.17,245.03 431.33,246.92 439.03,250.76 450.34,253.54 468.8,253.83 491.88,255.02 514.05,255.84" fill="none" stroke="#555" stroke-width="0.95" stroke-linejoin="round"/>
<polyline points="423.55,243.1 427.17,244.28 431.33,245.52 442.65,247.77 459.75,247.95 495.68,248.01 496.4,249.66 514.05,249.66" fill="none" stroke="#222" stroke-width="1.1" stroke-linejoin="round"/>
<text x="402.4" y="319.65" font-size="3.2" font-weight="bold" textLength="22.5" lengthAdjust="spacingAndGlyphs" stroke="#111" stroke-width="0.14">Number at risk</text>
<text x="410.5" y="323.59" font-size="3.3" stroke="#111" stroke-width="0.1">DXM</text>
<text x="410.5" y="327.49" font-size="3.3" stroke="#111" stroke-width="0.1">PDN</text>
<text x="424.05" y="323.69" font-size="3.3" text-anchor="middle" stroke="#111" stroke-width="0.1">145</text>
<text x="433.1" y="323.69" font-size="3.3" text-anchor="middle" stroke="#111" stroke-width="0.1">132</text>
<text x="442.15" y="323.69" font-size="3.3" text-anchor="middle" stroke="#111" stroke-width="0.1">125</text>
<text x="451.2" y="323.69" font-size="3.3" text-anchor="middle" stroke="#111" stroke-width="0.1">123</text>
<text x="460.25" y="323.69" font-size="3.3" text-anchor="middle" stroke="#111" stroke-width="0.1">122</text>
<text x="469.3" y="323.69" font-size="3.3" text-anchor="middle" stroke="#111" stroke-width="0.1">117</text>
<text x="478.35" y="323.69" font-size="3.3" text-anchor="middle" stroke="#111" stroke-width="0.1">111</text>
<text x="487.4" y="323.69" font-size="3.3" text-anchor="middle" stroke="#111" stroke-width="0.1">96</text>
<text x="496.45" y="323.69" font-size="3.3" text-anchor="middle" stroke="#111" stroke-width="0.1">79</text>
<text x="505.5" y="323.69" font-size="3.3" text-anchor="middle" stroke="#111" stroke-width="0.1">60</text>
<text x="514.55" y="323.69" font-size="3.3" text-anchor="middle" stroke="#111" stroke-width="0.1">40</text>
<text x="424.05" y="327.49" font-size="3.3" text-anchor="middle" stroke="#111" stroke-width="0.1">145</text>
<text x="433.1" y="327.49" font-size="3.3" text-anchor="middle" stroke="#111" stroke-width="0.1">132</text>
<text x="442.15" y="327.49" font-size="3.3" text-anchor="middle" stroke="#111" stroke-width="0.1">121</text>
<text x="451.2" y="327.49" font-size="3.3" text-anchor="middle" stroke="#111" stroke-width="0.1">117</text>
<text x="460.25" y="327.49" font-size="3.3" text-anchor="middle" stroke="#111" stroke-width="0.1">113</text>
<text x="469.3" y="327.49" font-size="3.3" text-anchor="middle" stroke="#111" stroke-width="0.1">108</text>
<text x="478.35" y="327.49" font-size="3.3" text-anchor="middle" stroke="#111" stroke-width="0.1">103</text>
<text x="487.4" y="327.49" font-size="3.3" text-anchor="middle" stroke="#111" stroke-width="0.1">84</text>
<text x="496.45" y="327.49" font-size="3.3" text-anchor="middle" stroke="#111" stroke-width="0.1">79</text>
<text x="505.5" y="327.49" font-size="3.3" text-anchor="middle" stroke="#111" stroke-width="0.1">60</text>
<text x="514.55" y="327.49" font-size="3.3" text-anchor="middle" stroke="#111" stroke-width="0.1">40</text>
<rect x="0" y="0" width="520" height="1" fill="#858585"/>
<rect x="0" y="0" width="1" height="331" fill="#858585"/>
<rect x="519" y="0" width="1" height="331" fill="#858585"/>
<rect x="0" y="329.5" width="520" height="1.5" fill="#858585"/>
</svg></div>
<div class="wrap rot"><svg width="1040" height="662" viewBox="0 0 520 331" font-family="Liberation Sans, Arial, sans-serif" fill="#111">
<text x="0" y="0" font-size="3.7" text-anchor="middle" textLength="61" lengthAdjust="spacingAndGlyphs" transform="translate(12.6 48.6) rotate(-90)" stroke="#111" stroke-width="0.1">Cumulative incidence of relapse (%)</text>
<text x="0" y="0" font-size="3.7" text-anchor="middle" textLength="39.4" lengthAdjust="spacingAndGlyphs" transform="translate(19.8 165.4) rotate(-90)" stroke="#111" stroke-width="0.1">Event-free survival (%)</text>
<text x="0" y="0" font-size="3.7" text-anchor="middle" textLength="35.2" lengthAdjust="spacingAndGlyphs" transform="translate(20.8 270.7) rotate(-90)" stroke="#111" stroke-width="0.1">Overall survival (%)</text>
<text x="0" y="0" font-size="3.7" text-anchor="middle" textLength="61" lengthAdjust="spacingAndGlyphs" transform="translate(146.4 48.6) rotate(-90)" stroke="#111" stroke-width="0.1">Cumulative incidence of relapse (%)</text>
<text x="0" y="0" font-size="3.7" text-anchor="middle" textLength="39.4" lengthAdjust="spacingAndGlyphs" transform="translate(151.9 165.4) rotate(-90)" stroke="#111" stroke-width="0.1">Event-free survival (%)</text>
<text x="0" y="0" font-size="3.7" text-anchor="middle" textLength="35.2" lengthAdjust="spacingAndGlyphs" transform="translate(152.9 270.7) rotate(-90)" stroke="#111" stroke-width="0.1">Overall survival (%)</text>
<text x="0" y="0" font-size="3.7" text-anchor="middle" textLength="61" lengthAdjust="spacingAndGlyphs" transform="translate(272.6 48.6) rotate(-90)" stroke="#111" stroke-width="0.1">Cumulative incidence of relapse (%)</text>
<text x="0" y="0" font-size="3.7" text-anchor="middle" textLength="39.4" lengthAdjust="spacingAndGlyphs" transform="translate(279.7 165.4) rotate(-90)" stroke="#111" stroke-width="0.1">Event-free survival (%)</text>
<text x="0" y="0" font-size="3.7" text-anchor="middle" textLength="35.2" lengthAdjust="spacingAndGlyphs" transform="translate(280.7 270.7) rotate(-90)" stroke="#111" stroke-width="0.1">Overall survival (%)</text>
<text x="0" y="0" font-size="3.7" text-anchor="middle" textLength="61" lengthAdjust="spacingAndGlyphs" transform="translate(406 48.6) rotate(-90)" stroke="#111" stroke-width="0.1">Cumulative incidence of relapse (%)</text>
<text x="0" y="0" font-size="3.7" text-anchor="middle" textLength="39.4" lengthAdjust="spacingAndGlyphs" transform="translate(412 165.4) rotate(-90)" stroke="#111" stroke-width="0.1">Event-free survival (%)</text>
<text x="0" y="0" font-size="3.7" text-anchor="middle" textLength="35.2" lengthAdjust="spacingAndGlyphs" transform="translate(413 270.7) rotate(-90)" stroke="#111" stroke-width="0.1">Overall survival (%)</text>
</svg></div>
</body></html>
